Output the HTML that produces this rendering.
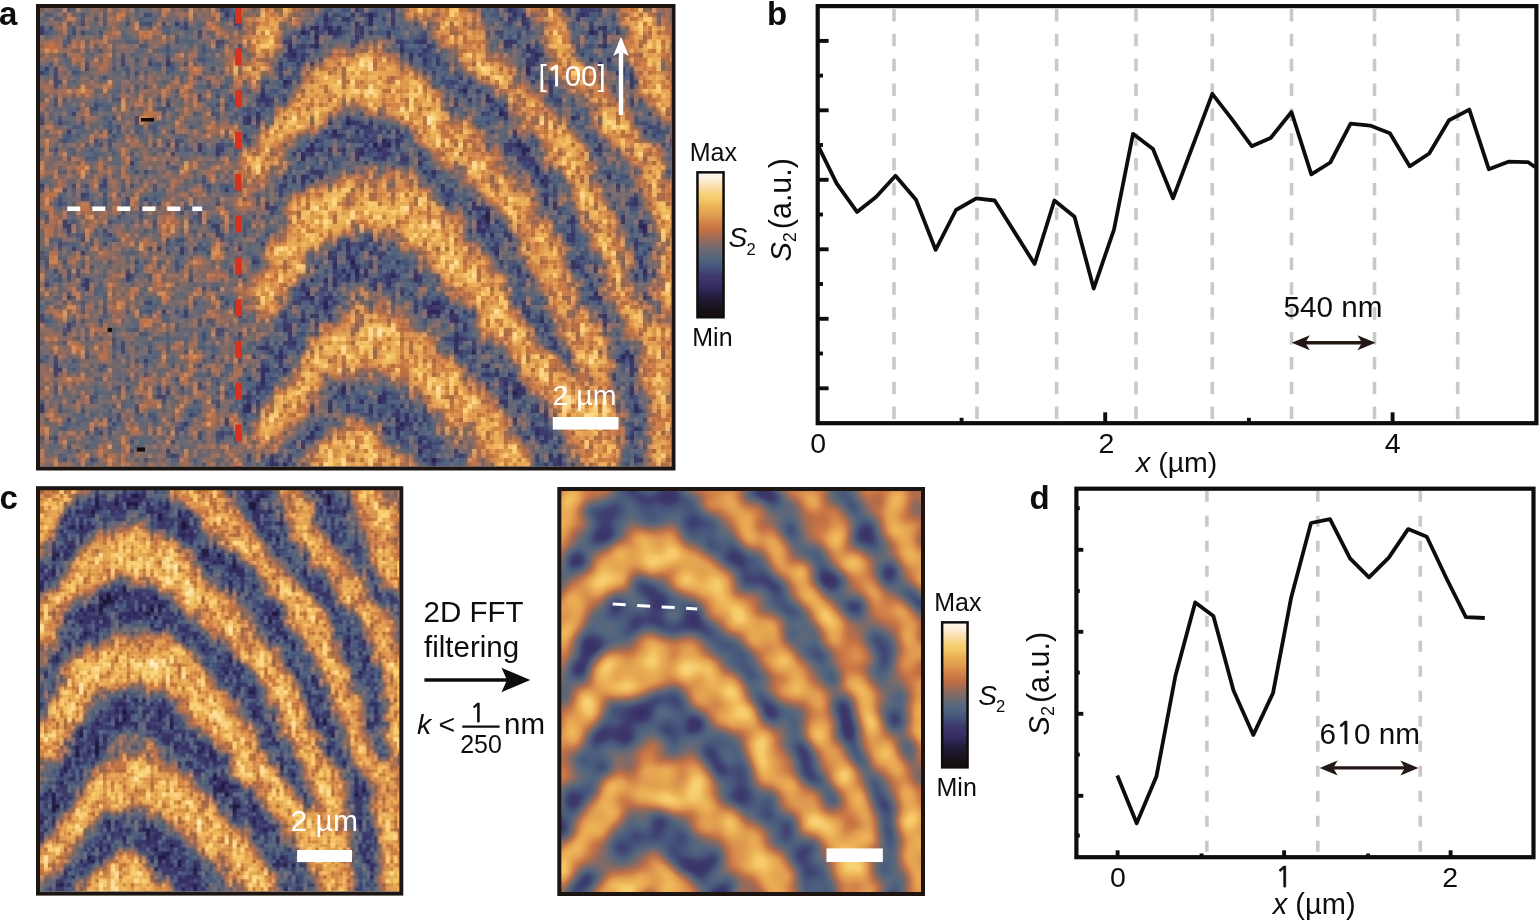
<!DOCTYPE html><html><head><meta charset="utf-8"><title>Figure</title>
<style>html,body{margin:0;padding:0;background:#fff;}svg{display:block;}text{font-family:'Liberation Sans', Arial, sans-serif;fill:#0f0d0c;}</style></head><body>
<svg width="1539" height="922" viewBox="0 0 1539 922">
<defs>
<linearGradient id="cbar" x1="0" y1="0" x2="0" y2="1"><stop offset="0.00" stop-color="#fff8ec"/><stop offset="0.05" stop-color="#fcefd8"/><stop offset="0.08" stop-color="#fbe2b8"/><stop offset="0.12" stop-color="#f9d898"/><stop offset="0.15" stop-color="#f6d27a"/><stop offset="0.19" stop-color="#f4c866"/><stop offset="0.22" stop-color="#eeb85a"/><stop offset="0.26" stop-color="#e8a850"/><stop offset="0.29" stop-color="#e0a050"/><stop offset="0.35" stop-color="#d4824a"/><stop offset="0.40" stop-color="#c47042"/><stop offset="0.46" stop-color="#9a6a5a"/><stop offset="0.53" stop-color="#6e6a70"/><stop offset="0.60" stop-color="#4f6580"/><stop offset="0.67" stop-color="#444e78"/><stop offset="0.71" stop-color="#3e3a6e"/><stop offset="0.75" stop-color="#3c3468"/><stop offset="0.79" stop-color="#352b64"/><stop offset="0.82" stop-color="#2c2454"/><stop offset="0.86" stop-color="#221c3a"/><stop offset="0.89" stop-color="#1f1830"/><stop offset="0.93" stop-color="#1b1420"/><stop offset="0.96" stop-color="#161014"/><stop offset="1.00" stop-color="#140e12"/></linearGradient>
<clipPath id="clipA"><rect x="40" y="8" width="631.5" height="458.5"/></clipPath>
<clipPath id="clipC1"><rect x="40" y="490" width="359.3" height="401.6"/></clipPath>
<clipPath id="clipC2"><rect x="561" y="491" width="360.5" height="401"/></clipPath>
<pattern id="nz" patternUnits="userSpaceOnUse" width="64" height="64"><path fill="rgb(6,6,6)" d="M6 0h1v1h-1zM14 0h1v1h-1zM40 0h1v1h-1zM47 0h1v1h-1zM52 0h2v1h-2zM60 0h1v1h-1zM9 1h1v1h-1zM14 1h1v1h-1zM23 1h2v1h-2zM41 1h1v1h-1zM43 1h1v1h-1zM48 1h1v1h-1zM53 1h1v1h-1zM56 1h1v1h-1zM63 1h1v1h-1zM9 2h1v1h-1zM14 2h1v1h-1zM43 2h1v1h-1zM55 2h1v1h-1zM63 2h1v1h-1zM9 3h1v1h-1zM14 3h1v1h-1zM19 3h1v1h-1zM22 3h3v1h-3zM27 3h1v1h-1zM30 3h1v1h-1zM32 3h1v1h-1zM43 3h2v1h-2zM47 3h1v1h-1zM53 3h2v1h-2zM0 4h1v1h-1zM32 4h1v1h-1zM44 4h1v1h-1zM47 4h1v1h-1zM53 4h2v1h-2zM61 4h1v1h-1zM0 5h1v1h-1zM7 5h1v1h-1zM13 5h1v1h-1zM28 5h1v1h-1zM35 5h1v1h-1zM47 5h1v1h-1zM58 5h1v1h-1zM6 6h1v1h-1zM30 6h1v1h-1zM35 6h1v1h-1zM61 6h1v1h-1zM6 7h1v1h-1zM30 7h1v1h-1zM39 7h2v1h-2zM54 7h1v1h-1zM5 8h1v1h-1zM28 8h1v1h-1zM36 8h1v1h-1zM39 8h1v1h-1zM44 8h1v1h-1zM55 8h1v1h-1zM61 8h1v1h-1zM16 9h1v1h-1zM28 9h1v1h-1zM36 9h1v1h-1zM44 9h1v1h-1zM55 9h1v1h-1zM5 10h1v1h-1zM18 10h1v1h-1zM28 10h1v1h-1zM46 10h2v1h-2zM56 10h1v1h-1zM18 11h1v1h-1zM21 11h1v1h-1zM28 11h1v1h-1zM35 11h2v1h-2zM46 11h1v1h-1zM48 11h3v1h-3zM58 11h1v1h-1zM62 11h1v1h-1zM10 12h1v1h-1zM18 12h1v1h-1zM24 12h1v1h-1zM28 12h1v1h-1zM32 12h1v1h-1zM53 12h1v1h-1zM60 12h1v1h-1zM1 13h1v1h-1zM3 13h1v1h-1zM10 13h1v1h-1zM16 13h1v1h-1zM38 13h1v1h-1zM44 13h1v1h-1zM47 13h1v1h-1zM53 13h1v1h-1zM0 14h1v1h-1zM3 14h1v1h-1zM21 14h1v1h-1zM23 14h1v1h-1zM44 14h1v1h-1zM3 15h1v1h-1zM14 15h1v1h-1zM35 15h1v1h-1zM41 15h2v1h-2zM3 16h2v1h-2zM41 16h2v1h-2zM45 16h1v1h-1zM49 16h2v1h-2zM54 16h1v1h-1zM57 16h1v1h-1zM60 16h1v1h-1zM3 17h1v1h-1zM23 17h1v1h-1zM40 17h2v1h-2zM49 17h1v1h-1zM63 17h1v1h-1zM30 18h1v1h-1zM49 18h1v1h-1zM58 18h1v1h-1zM63 18h1v1h-1zM35 19h1v1h-1zM39 19h1v1h-1zM42 19h1v1h-1zM49 19h1v1h-1zM3 20h1v1h-1zM17 20h1v1h-1zM26 20h1v1h-1zM35 20h1v1h-1zM42 20h1v1h-1zM54 20h1v1h-1zM3 21h1v1h-1zM12 21h1v1h-1zM28 21h1v1h-1zM39 21h1v1h-1zM41 21h1v1h-1zM60 21h1v1h-1zM62 21h1v1h-1zM11 22h2v1h-2zM20 22h1v1h-1zM26 22h2v1h-2zM59 22h1v1h-1zM7 23h1v1h-1zM11 23h1v1h-1zM27 23h1v1h-1zM38 23h2v1h-2zM48 23h1v1h-1zM0 24h1v1h-1zM4 24h1v1h-1zM21 24h1v1h-1zM39 24h1v1h-1zM46 24h1v1h-1zM48 24h1v1h-1zM54 24h1v1h-1zM60 24h1v1h-1zM0 25h1v1h-1zM4 25h1v1h-1zM9 25h1v1h-1zM21 25h1v1h-1zM45 25h2v1h-2zM48 25h1v1h-1zM60 25h1v1h-1zM17 26h1v1h-1zM33 26h1v1h-1zM48 26h1v1h-1zM50 26h1v1h-1zM6 27h1v1h-1zM15 27h1v1h-1zM17 27h1v1h-1zM29 27h1v1h-1zM41 27h1v1h-1zM16 28h1v1h-1zM32 28h1v1h-1zM41 28h1v1h-1zM45 28h1v1h-1zM12 29h1v1h-1zM15 29h1v1h-1zM30 29h2v1h-2zM46 29h1v1h-1zM61 29h1v1h-1zM10 30h1v1h-1zM13 30h1v1h-1zM15 30h1v1h-1zM28 30h1v1h-1zM30 30h1v1h-1zM35 30h1v1h-1zM39 30h2v1h-2zM42 30h1v1h-1zM46 30h1v1h-1zM54 30h1v1h-1zM60 30h1v1h-1zM3 31h1v1h-1zM35 31h1v1h-1zM39 31h2v1h-2zM43 31h2v1h-2zM59 31h2v1h-2zM20 32h1v1h-1zM29 32h1v1h-1zM39 32h1v1h-1zM43 32h1v1h-1zM47 32h1v1h-1zM51 32h1v1h-1zM6 33h1v1h-1zM58 33h1v1h-1zM20 34h1v1h-1zM28 34h1v1h-1zM29 35h2v1h-2zM46 35h1v1h-1zM49 35h1v1h-1zM51 35h1v1h-1zM5 36h1v1h-1zM11 36h1v1h-1zM23 36h1v1h-1zM46 36h1v1h-1zM51 36h1v1h-1zM36 37h1v1h-1zM51 37h1v1h-1zM54 37h1v1h-1zM58 37h1v1h-1zM62 37h1v1h-1zM14 38h1v1h-1zM36 38h1v1h-1zM45 38h1v1h-1zM47 38h1v1h-1zM52 38h1v1h-1zM56 38h1v1h-1zM58 38h1v1h-1zM60 38h1v1h-1zM0 39h1v1h-1zM7 39h1v1h-1zM10 39h1v1h-1zM13 39h2v1h-2zM20 39h1v1h-1zM25 39h1v1h-1zM37 39h1v1h-1zM53 39h2v1h-2zM58 39h1v1h-1zM5 40h1v1h-1zM25 40h1v1h-1zM41 40h1v1h-1zM53 40h1v1h-1zM58 40h1v1h-1zM9 41h2v1h-2zM14 41h1v1h-1zM53 41h1v1h-1zM4 42h1v1h-1zM9 42h2v1h-2zM14 42h1v1h-1zM19 42h1v1h-1zM23 42h1v1h-1zM48 42h1v1h-1zM4 43h1v1h-1zM11 43h1v1h-1zM14 43h1v1h-1zM19 43h1v1h-1zM26 43h1v1h-1zM39 43h1v1h-1zM48 43h1v1h-1zM50 43h1v1h-1zM59 43h1v1h-1zM22 44h1v1h-1zM35 44h1v1h-1zM50 44h1v1h-1zM59 44h1v1h-1zM63 44h1v1h-1zM35 45h1v1h-1zM57 45h1v1h-1zM1 46h1v1h-1zM17 46h1v1h-1zM22 46h1v1h-1zM35 46h1v1h-1zM47 46h1v1h-1zM54 46h1v1h-1zM57 46h1v1h-1zM1 47h1v1h-1zM5 47h1v1h-1zM15 47h1v1h-1zM25 47h1v1h-1zM33 47h1v1h-1zM35 47h1v1h-1zM37 47h1v1h-1zM45 47h2v1h-2zM54 47h1v1h-1zM5 48h2v1h-2zM25 48h1v1h-1zM38 48h2v1h-2zM45 48h2v1h-2zM6 49h1v1h-1zM14 49h1v1h-1zM31 49h1v1h-1zM33 49h2v1h-2zM39 49h1v1h-1zM45 49h1v1h-1zM8 50h2v1h-2zM15 50h1v1h-1zM36 50h1v1h-1zM39 50h2v1h-2zM45 50h1v1h-1zM54 50h1v1h-1zM9 51h1v1h-1zM11 51h1v1h-1zM28 51h1v1h-1zM30 51h2v1h-2zM40 51h1v1h-1zM53 51h2v1h-2zM4 52h1v1h-1zM11 52h1v1h-1zM14 52h1v1h-1zM49 52h1v1h-1zM4 53h1v1h-1zM7 53h1v1h-1zM24 53h1v1h-1zM26 53h1v1h-1zM31 53h1v1h-1zM34 53h1v1h-1zM41 53h1v1h-1zM44 53h1v1h-1zM0 54h1v1h-1zM9 54h1v1h-1zM31 54h1v1h-1zM37 54h1v1h-1zM59 54h2v1h-2zM0 55h2v1h-2zM59 55h2v1h-2zM1 56h1v1h-1zM5 56h1v1h-1zM21 56h1v1h-1zM30 56h1v1h-1zM47 56h2v1h-2zM54 56h1v1h-1zM59 56h2v1h-2zM1 57h1v1h-1zM30 57h1v1h-1zM50 57h1v1h-1zM54 57h1v1h-1zM59 57h1v1h-1zM61 57h1v1h-1zM3 58h1v1h-1zM6 58h1v1h-1zM8 58h1v1h-1zM30 58h1v1h-1zM33 58h1v1h-1zM42 58h1v1h-1zM59 58h1v1h-1zM4 59h1v1h-1zM6 59h1v1h-1zM8 59h1v1h-1zM14 59h1v1h-1zM19 59h1v1h-1zM24 59h1v1h-1zM33 59h1v1h-1zM44 59h1v1h-1zM4 60h1v1h-1zM6 60h1v1h-1zM10 60h1v1h-1zM19 60h1v1h-1zM24 60h1v1h-1zM33 60h1v1h-1zM45 60h1v1h-1zM60 60h1v1h-1zM63 60h1v1h-1zM1 61h1v1h-1zM9 61h2v1h-2zM58 61h1v1h-1zM10 62h1v1h-1zM36 62h1v1h-1zM39 62h1v1h-1zM56 62h1v1h-1zM59 63h1v1h-1z"/><path fill="rgb(51,51,51)" d="M0 0h1v1h-1zM3 0h1v1h-1zM7 0h1v1h-1zM32 0h1v1h-1zM41 0h1v1h-1zM48 0h1v1h-1zM56 0h1v1h-1zM58 0h2v1h-2zM63 0h1v1h-1zM1 1h2v1h-2zM5 1h1v1h-1zM34 1h1v1h-1zM55 1h1v1h-1zM57 1h1v1h-1zM3 2h2v1h-2zM12 2h1v1h-1zM19 2h1v1h-1zM22 2h1v1h-1zM40 2h1v1h-1zM44 2h1v1h-1zM6 3h1v1h-1zM48 3h1v1h-1zM2 4h1v1h-1zM7 4h1v1h-1zM14 4h1v1h-1zM22 4h1v1h-1zM24 4h1v1h-1zM27 4h2v1h-2zM31 4h1v1h-1zM46 4h1v1h-1zM60 4h1v1h-1zM1 5h1v1h-1zM9 5h1v1h-1zM27 5h1v1h-1zM37 5h1v1h-1zM44 5h2v1h-2zM49 5h1v1h-1zM54 5h1v1h-1zM61 5h1v1h-1zM7 6h1v1h-1zM13 6h1v1h-1zM38 6h1v1h-1zM54 6h2v1h-2zM5 7h1v1h-1zM16 7h1v1h-1zM19 7h3v1h-3zM46 7h1v1h-1zM55 7h1v1h-1zM61 7h1v1h-1zM16 8h1v1h-1zM22 8h2v1h-2zM40 8h1v1h-1zM46 8h1v1h-1zM8 9h1v1h-1zM10 9h1v1h-1zM13 9h1v1h-1zM26 9h2v1h-2zM29 9h2v1h-2zM37 9h1v1h-1zM39 9h1v1h-1zM45 9h1v1h-1zM16 10h1v1h-1zM20 10h1v1h-1zM35 10h2v1h-2zM38 10h1v1h-1zM50 10h1v1h-1zM54 10h2v1h-2zM10 11h1v1h-1zM16 11h1v1h-1zM24 11h1v1h-1zM37 11h2v1h-2zM44 11h1v1h-1zM2 12h1v1h-1zM16 12h1v1h-1zM21 12h1v1h-1zM26 12h1v1h-1zM36 12h1v1h-1zM44 12h2v1h-2zM51 12h1v1h-1zM57 12h1v1h-1zM19 13h1v1h-1zM29 13h1v1h-1zM52 13h1v1h-1zM1 14h1v1h-1zM7 14h1v1h-1zM28 14h1v1h-1zM36 14h1v1h-1zM40 14h1v1h-1zM53 14h1v1h-1zM23 15h1v1h-1zM29 15h1v1h-1zM49 15h1v1h-1zM57 15h1v1h-1zM7 16h1v1h-1zM13 16h1v1h-1zM31 16h1v1h-1zM55 16h1v1h-1zM35 17h1v1h-1zM37 17h1v1h-1zM54 17h1v1h-1zM12 18h2v1h-2zM17 18h1v1h-1zM19 18h1v1h-1zM39 18h1v1h-1zM46 18h1v1h-1zM41 19h1v1h-1zM54 19h1v1h-1zM56 19h1v1h-1zM0 20h1v1h-1zM5 20h1v1h-1zM12 20h1v1h-1zM16 20h1v1h-1zM19 20h1v1h-1zM28 20h1v1h-1zM31 20h1v1h-1zM36 20h1v1h-1zM43 20h1v1h-1zM48 20h4v1h-4zM60 20h1v1h-1zM13 21h1v1h-1zM17 21h1v1h-1zM26 21h1v1h-1zM43 21h1v1h-1zM54 21h1v1h-1zM22 22h1v1h-1zM25 22h1v1h-1zM38 22h1v1h-1zM41 22h1v1h-1zM57 22h1v1h-1zM0 23h1v1h-1zM12 23h1v1h-1zM30 23h1v1h-1zM34 23h1v1h-1zM9 24h1v1h-1zM16 24h1v1h-1zM27 24h1v1h-1zM29 24h1v1h-1zM45 24h1v1h-1zM5 25h2v1h-2zM15 25h1v1h-1zM27 25h1v1h-1zM35 25h1v1h-1zM42 25h1v1h-1zM51 25h1v1h-1zM7 26h3v1h-3zM11 26h1v1h-1zM15 26h1v1h-1zM21 26h2v1h-2zM24 26h2v1h-2zM34 26h1v1h-1zM53 26h1v1h-1zM1 27h1v1h-1zM9 27h1v1h-1zM19 27h1v1h-1zM21 27h1v1h-1zM25 27h1v1h-1zM36 27h1v1h-1zM48 27h1v1h-1zM8 28h1v1h-1zM17 28h2v1h-2zM31 28h1v1h-1zM57 28h1v1h-1zM4 29h2v1h-2zM16 29h1v1h-1zM28 29h1v1h-1zM40 29h1v1h-1zM42 29h1v1h-1zM45 29h1v1h-1zM12 30h1v1h-1zM19 30h1v1h-1zM25 30h1v1h-1zM32 30h1v1h-1zM41 30h1v1h-1zM0 31h1v1h-1zM2 31h1v1h-1zM11 31h1v1h-1zM15 31h1v1h-1zM20 31h2v1h-2zM27 31h1v1h-1zM30 31h1v1h-1zM32 31h2v1h-2zM48 31h1v1h-1zM51 31h1v1h-1zM62 31h1v1h-1zM3 32h1v1h-1zM6 32h2v1h-2zM16 32h1v1h-1zM48 32h1v1h-1zM56 32h1v1h-1zM58 32h1v1h-1zM60 32h1v1h-1zM10 33h1v1h-1zM12 33h1v1h-1zM21 33h1v1h-1zM31 33h1v1h-1zM42 33h1v1h-1zM50 33h1v1h-1zM8 34h1v1h-1zM14 35h1v1h-1zM28 35h1v1h-1zM55 35h1v1h-1zM4 36h1v1h-1zM7 36h1v1h-1zM12 36h1v1h-1zM21 36h1v1h-1zM30 36h1v1h-1zM34 36h1v1h-1zM39 36h1v1h-1zM49 36h1v1h-1zM55 36h1v1h-1zM60 36h2v1h-2zM10 37h2v1h-2zM39 37h1v1h-1zM46 37h1v1h-1zM48 37h1v1h-1zM50 37h1v1h-1zM52 37h1v1h-1zM56 37h1v1h-1zM59 37h1v1h-1zM18 38h1v1h-1zM22 38h1v1h-1zM27 38h1v1h-1zM34 38h1v1h-1zM51 38h1v1h-1zM18 39h1v1h-1zM28 39h1v1h-1zM41 39h2v1h-2zM45 39h1v1h-1zM48 39h1v1h-1zM0 40h1v1h-1zM7 40h1v1h-1zM13 40h1v1h-1zM18 40h1v1h-1zM27 40h1v1h-1zM37 40h1v1h-1zM43 40h1v1h-1zM52 40h1v1h-1zM4 41h1v1h-1zM17 41h1v1h-1zM22 41h1v1h-1zM26 41h1v1h-1zM47 41h2v1h-2zM62 41h1v1h-1zM22 42h1v1h-1zM25 42h1v1h-1zM39 42h1v1h-1zM45 42h1v1h-1zM59 42h1v1h-1zM3 43h1v1h-1zM5 43h1v1h-1zM7 43h1v1h-1zM18 43h1v1h-1zM24 43h1v1h-1zM32 43h1v1h-1zM34 43h1v1h-1zM54 43h1v1h-1zM63 43h1v1h-1zM18 44h1v1h-1zM32 44h3v1h-3zM36 44h1v1h-1zM41 44h1v1h-1zM51 44h2v1h-2zM62 44h1v1h-1zM18 45h1v1h-1zM22 45h1v1h-1zM31 45h1v1h-1zM46 45h1v1h-1zM51 45h1v1h-1zM9 46h1v1h-1zM34 46h1v1h-1zM39 46h1v1h-1zM42 46h1v1h-1zM44 46h2v1h-2zM16 47h2v1h-2zM22 47h1v1h-1zM38 47h1v1h-1zM40 47h1v1h-1zM53 47h1v1h-1zM55 47h1v1h-1zM58 47h1v1h-1zM33 48h1v1h-1zM35 48h1v1h-1zM42 48h1v1h-1zM54 48h1v1h-1zM59 48h1v1h-1zM8 49h1v1h-1zM12 49h1v1h-1zM23 49h1v1h-1zM25 49h1v1h-1zM47 49h1v1h-1zM54 49h1v1h-1zM59 49h2v1h-2zM6 50h1v1h-1zM12 50h1v1h-1zM14 50h1v1h-1zM26 50h1v1h-1zM31 50h1v1h-1zM34 50h1v1h-1zM43 50h1v1h-1zM50 50h1v1h-1zM53 50h1v1h-1zM62 50h1v1h-1zM2 51h3v1h-3zM16 51h1v1h-1zM32 51h1v1h-1zM42 51h1v1h-1zM57 51h1v1h-1zM21 52h1v1h-1zM28 52h1v1h-1zM30 52h1v1h-1zM35 52h1v1h-1zM42 52h1v1h-1zM44 52h1v1h-1zM54 52h1v1h-1zM2 53h1v1h-1zM10 53h1v1h-1zM13 53h1v1h-1zM36 53h1v1h-1zM60 53h1v1h-1zM1 54h1v1h-1zM20 54h2v1h-2zM28 54h1v1h-1zM4 55h1v1h-1zM47 55h2v1h-2zM56 55h1v1h-1zM9 56h1v1h-1zM15 56h1v1h-1zM23 56h1v1h-1zM26 56h1v1h-1zM38 56h1v1h-1zM49 56h2v1h-2zM58 56h1v1h-1zM62 56h1v1h-1zM5 57h1v1h-1zM9 57h1v1h-1zM11 57h1v1h-1zM26 57h1v1h-1zM31 57h1v1h-1zM42 57h1v1h-1zM48 57h1v1h-1zM55 57h1v1h-1zM14 58h1v1h-1zM19 58h1v1h-1zM21 58h1v1h-1zM20 59h1v1h-1zM23 59h1v1h-1zM42 59h1v1h-1zM52 59h1v1h-1zM57 59h1v1h-1zM1 60h1v1h-1zM3 60h1v1h-1zM9 60h1v1h-1zM20 60h1v1h-1zM51 60h1v1h-1zM13 61h1v1h-1zM30 61h1v1h-1zM53 61h2v1h-2zM38 62h1v1h-1zM55 62h1v1h-1zM58 62h1v1h-1zM14 63h1v1h-1zM31 63h1v1h-1zM36 63h1v1h-1zM42 63h1v1h-1z"/><path fill="rgb(78,78,78)" d="M4 0h1v1h-1zM21 0h1v1h-1zM24 0h1v1h-1zM26 0h1v1h-1zM29 0h1v1h-1zM31 0h1v1h-1zM35 0h1v1h-1zM37 0h1v1h-1zM42 0h1v1h-1zM57 0h1v1h-1zM7 1h2v1h-2zM21 1h1v1h-1zM26 1h1v1h-1zM36 1h1v1h-1zM45 1h3v1h-3zM51 1h1v1h-1zM60 1h1v1h-1zM21 2h1v1h-1zM23 2h1v1h-1zM25 2h1v1h-1zM32 2h1v1h-1zM41 2h1v1h-1zM63 3h1v1h-1zM63 4h1v1h-1zM2 5h1v1h-1zM6 5h1v1h-1zM29 5h1v1h-1zM38 5h1v1h-1zM42 5h1v1h-1zM46 5h1v1h-1zM51 5h1v1h-1zM56 5h1v1h-1zM1 6h1v1h-1zM28 6h1v1h-1zM42 6h1v1h-1zM15 7h1v1h-1zM17 7h1v1h-1zM28 7h1v1h-1zM31 7h2v1h-2zM36 7h1v1h-1zM41 7h1v1h-1zM48 7h1v1h-1zM0 8h1v1h-1zM12 8h1v1h-1zM33 8h1v1h-1zM35 8h1v1h-1zM37 8h1v1h-1zM47 8h1v1h-1zM60 8h1v1h-1zM7 9h1v1h-1zM21 9h1v1h-1zM25 9h1v1h-1zM32 9h1v1h-1zM35 9h1v1h-1zM43 9h1v1h-1zM47 9h1v1h-1zM49 9h1v1h-1zM56 9h1v1h-1zM0 10h1v1h-1zM4 10h1v1h-1zM11 10h1v1h-1zM32 10h1v1h-1zM43 10h1v1h-1zM45 10h1v1h-1zM58 10h1v1h-1zM32 11h1v1h-1zM45 11h1v1h-1zM53 11h1v1h-1zM55 11h2v1h-2zM25 12h1v1h-1zM29 12h1v1h-1zM34 12h1v1h-1zM38 12h1v1h-1zM46 12h2v1h-2zM22 13h2v1h-2zM25 13h2v1h-2zM5 14h1v1h-1zM8 14h1v1h-1zM16 14h2v1h-2zM19 14h1v1h-1zM29 14h1v1h-1zM42 14h1v1h-1zM49 14h1v1h-1zM11 15h1v1h-1zM13 15h1v1h-1zM15 15h2v1h-2zM19 15h1v1h-1zM31 15h1v1h-1zM34 15h1v1h-1zM46 15h1v1h-1zM50 15h1v1h-1zM53 15h1v1h-1zM6 16h1v1h-1zM14 16h1v1h-1zM23 16h1v1h-1zM27 16h1v1h-1zM37 16h1v1h-1zM48 16h1v1h-1zM6 17h1v1h-1zM8 17h1v1h-1zM21 17h1v1h-1zM24 17h1v1h-1zM26 17h1v1h-1zM34 17h1v1h-1zM36 17h1v1h-1zM57 17h1v1h-1zM62 17h1v1h-1zM16 18h1v1h-1zM21 18h1v1h-1zM33 18h1v1h-1zM38 18h1v1h-1zM40 18h2v1h-2zM44 18h1v1h-1zM55 18h1v1h-1zM60 18h1v1h-1zM3 19h1v1h-1zM7 19h1v1h-1zM26 19h1v1h-1zM30 19h1v1h-1zM50 19h1v1h-1zM58 19h1v1h-1zM23 20h1v1h-1zM25 20h1v1h-1zM38 20h2v1h-2zM41 20h1v1h-1zM57 20h1v1h-1zM14 21h2v1h-2zM37 21h1v1h-1zM42 21h1v1h-1zM48 21h1v1h-1zM50 21h1v1h-1zM59 21h1v1h-1zM1 22h1v1h-1zM3 22h2v1h-2zM8 22h1v1h-1zM15 22h1v1h-1zM17 22h1v1h-1zM28 22h2v1h-2zM42 22h1v1h-1zM46 22h1v1h-1zM18 23h1v1h-1zM20 23h1v1h-1zM29 23h1v1h-1zM35 23h1v1h-1zM43 23h1v1h-1zM46 23h1v1h-1zM57 23h1v1h-1zM14 24h1v1h-1zM18 24h1v1h-1zM42 24h2v1h-2zM55 24h1v1h-1zM57 24h1v1h-1zM25 25h2v1h-2zM28 25h2v1h-2zM32 25h2v1h-2zM14 26h1v1h-1zM29 26h1v1h-1zM47 26h1v1h-1zM8 27h1v1h-1zM10 27h2v1h-2zM13 27h1v1h-1zM26 27h1v1h-1zM28 27h1v1h-1zM52 27h1v1h-1zM63 27h1v1h-1zM1 28h2v1h-2zM6 28h1v1h-1zM20 28h1v1h-1zM22 28h1v1h-1zM25 28h2v1h-2zM50 28h1v1h-1zM55 28h1v1h-1zM7 29h1v1h-1zM13 29h1v1h-1zM18 29h1v1h-1zM27 29h1v1h-1zM32 29h1v1h-1zM47 29h1v1h-1zM59 29h1v1h-1zM62 29h1v1h-1zM3 30h1v1h-1zM6 31h2v1h-2zM46 31h1v1h-1zM61 31h1v1h-1zM12 32h2v1h-2zM22 32h1v1h-1zM25 32h1v1h-1zM34 32h1v1h-1zM36 32h1v1h-1zM40 32h1v1h-1zM52 32h1v1h-1zM4 33h1v1h-1zM11 33h1v1h-1zM16 33h2v1h-2zM22 33h1v1h-1zM32 33h1v1h-1zM39 33h1v1h-1zM43 33h1v1h-1zM45 33h1v1h-1zM55 33h1v1h-1zM6 34h1v1h-1zM31 34h1v1h-1zM37 34h1v1h-1zM40 34h1v1h-1zM45 34h1v1h-1zM57 34h1v1h-1zM4 35h1v1h-1zM11 35h1v1h-1zM35 35h2v1h-2zM52 35h1v1h-1zM60 35h1v1h-1zM27 36h1v1h-1zM29 36h1v1h-1zM40 36h1v1h-1zM42 36h1v1h-1zM50 36h1v1h-1zM62 36h1v1h-1zM14 37h1v1h-1zM16 37h1v1h-1zM23 37h1v1h-1zM34 37h1v1h-1zM41 37h1v1h-1zM45 37h1v1h-1zM6 38h1v1h-1zM28 38h1v1h-1zM48 38h1v1h-1zM54 38h1v1h-1zM9 39h1v1h-1zM21 39h1v1h-1zM36 39h1v1h-1zM40 39h1v1h-1zM47 39h1v1h-1zM50 39h1v1h-1zM52 39h1v1h-1zM10 40h1v1h-1zM14 40h1v1h-1zM30 40h1v1h-1zM32 40h1v1h-1zM44 40h1v1h-1zM50 40h1v1h-1zM54 40h2v1h-2zM5 41h1v1h-1zM7 41h1v1h-1zM20 41h1v1h-1zM23 41h1v1h-1zM25 41h1v1h-1zM27 41h1v1h-1zM33 41h1v1h-1zM59 41h1v1h-1zM3 42h1v1h-1zM11 42h1v1h-1zM13 42h1v1h-1zM26 42h1v1h-1zM31 42h1v1h-1zM34 42h1v1h-1zM2 43h1v1h-1zM22 43h1v1h-1zM53 43h1v1h-1zM57 43h1v1h-1zM4 44h1v1h-1zM14 44h1v1h-1zM37 44h1v1h-1zM42 44h1v1h-1zM0 45h1v1h-1zM6 45h1v1h-1zM20 45h1v1h-1zM47 45h1v1h-1zM53 45h1v1h-1zM60 45h1v1h-1zM12 46h1v1h-1zM25 46h1v1h-1zM38 46h1v1h-1zM49 46h1v1h-1zM62 46h1v1h-1zM7 47h1v1h-1zM10 47h1v1h-1zM20 47h1v1h-1zM31 47h1v1h-1zM39 47h1v1h-1zM50 47h1v1h-1zM57 47h1v1h-1zM13 48h1v1h-1zM15 48h1v1h-1zM31 48h1v1h-1zM58 48h1v1h-1zM62 48h1v1h-1zM0 49h1v1h-1zM3 49h1v1h-1zM42 49h1v1h-1zM44 49h1v1h-1zM46 49h1v1h-1zM57 49h1v1h-1zM0 50h1v1h-1zM7 50h1v1h-1zM57 50h1v1h-1zM8 51h1v1h-1zM14 51h1v1h-1zM17 51h1v1h-1zM36 51h1v1h-1zM41 51h1v1h-1zM2 52h1v1h-1zM5 52h1v1h-1zM7 52h1v1h-1zM10 52h1v1h-1zM13 52h1v1h-1zM31 52h1v1h-1zM37 52h1v1h-1zM46 52h1v1h-1zM63 52h1v1h-1zM32 53h1v1h-1zM35 53h1v1h-1zM37 53h1v1h-1zM49 53h1v1h-1zM57 53h1v1h-1zM62 53h1v1h-1zM4 54h1v1h-1zM6 54h1v1h-1zM12 54h1v1h-1zM19 54h1v1h-1zM24 54h1v1h-1zM34 54h1v1h-1zM57 54h1v1h-1zM5 55h1v1h-1zM11 55h1v1h-1zM21 55h1v1h-1zM30 55h2v1h-2zM33 55h1v1h-1zM37 55h1v1h-1zM43 55h1v1h-1zM55 55h1v1h-1zM19 56h1v1h-1zM27 56h1v1h-1zM41 56h1v1h-1zM43 56h1v1h-1zM61 56h1v1h-1zM33 57h1v1h-1zM38 57h1v1h-1zM41 57h1v1h-1zM47 57h1v1h-1zM53 57h1v1h-1zM1 58h1v1h-1zM17 58h1v1h-1zM54 58h1v1h-1zM63 58h1v1h-1zM2 59h1v1h-1zM13 59h1v1h-1zM49 59h1v1h-1zM61 59h1v1h-1zM11 60h1v1h-1zM40 60h1v1h-1zM50 60h1v1h-1zM52 60h1v1h-1zM58 60h1v1h-1zM20 61h1v1h-1zM24 61h1v1h-1zM34 61h1v1h-1zM39 61h2v1h-2zM43 61h1v1h-1zM45 61h1v1h-1zM47 61h1v1h-1zM51 61h1v1h-1zM63 61h1v1h-1zM8 62h1v1h-1zM12 62h2v1h-2zM23 62h1v1h-1zM27 62h1v1h-1zM29 62h1v1h-1zM32 62h2v1h-2zM49 62h1v1h-1zM53 62h1v1h-1zM57 62h1v1h-1zM6 63h1v1h-1zM12 63h1v1h-1zM16 63h1v1h-1zM22 63h1v1h-1zM32 63h1v1h-1zM49 63h2v1h-2zM56 63h1v1h-1z"/><path fill="rgb(99,99,99)" d="M13 0h1v1h-1zM39 0h1v1h-1zM43 0h1v1h-1zM46 0h1v1h-1zM10 1h1v1h-1zM16 1h1v1h-1zM19 1h1v1h-1zM25 1h1v1h-1zM37 1h1v1h-1zM42 1h1v1h-1zM52 1h1v1h-1zM62 1h1v1h-1zM0 2h1v1h-1zM24 2h1v1h-1zM28 2h1v1h-1zM30 2h1v1h-1zM34 2h1v1h-1zM38 2h1v1h-1zM50 2h1v1h-1zM52 2h1v1h-1zM54 2h1v1h-1zM35 3h2v1h-2zM40 3h1v1h-1zM49 3h2v1h-2zM61 3h1v1h-1zM6 4h1v1h-1zM13 4h1v1h-1zM15 4h1v1h-1zM30 4h1v1h-1zM43 4h1v1h-1zM51 4h1v1h-1zM58 4h1v1h-1zM18 5h1v1h-1zM21 5h1v1h-1zM30 5h1v1h-1zM32 5h1v1h-1zM52 5h1v1h-1zM55 5h1v1h-1zM59 5h1v1h-1zM62 5h1v1h-1zM18 6h2v1h-2zM21 6h1v1h-1zM44 6h1v1h-1zM48 6h1v1h-1zM52 6h1v1h-1zM57 6h1v1h-1zM10 7h1v1h-1zM23 7h1v1h-1zM33 7h1v1h-1zM37 7h1v1h-1zM52 7h1v1h-1zM27 8h1v1h-1zM29 8h3v1h-3zM58 8h1v1h-1zM17 9h2v1h-2zM22 9h1v1h-1zM31 9h1v1h-1zM38 9h1v1h-1zM46 9h1v1h-1zM50 9h1v1h-1zM10 10h1v1h-1zM21 10h1v1h-1zM24 10h1v1h-1zM27 10h1v1h-1zM29 10h1v1h-1zM40 10h1v1h-1zM52 10h1v1h-1zM5 11h2v1h-2zM13 11h1v1h-1zM22 11h1v1h-1zM39 11h1v1h-1zM47 11h1v1h-1zM51 11h1v1h-1zM4 12h1v1h-1zM39 12h1v1h-1zM50 12h1v1h-1zM58 12h1v1h-1zM62 12h1v1h-1zM0 13h1v1h-1zM21 13h1v1h-1zM28 13h1v1h-1zM42 13h1v1h-1zM54 13h1v1h-1zM57 13h1v1h-1zM60 13h1v1h-1zM62 13h2v1h-2zM32 14h1v1h-1zM38 14h1v1h-1zM50 14h1v1h-1zM59 14h1v1h-1zM8 15h1v1h-1zM21 15h1v1h-1zM25 15h1v1h-1zM60 15h1v1h-1zM8 16h1v1h-1zM10 16h1v1h-1zM16 16h2v1h-2zM25 16h2v1h-2zM28 16h1v1h-1zM58 16h1v1h-1zM61 16h1v1h-1zM10 17h2v1h-2zM16 17h2v1h-2zM42 17h1v1h-1zM45 17h1v1h-1zM55 17h1v1h-1zM15 18h1v1h-1zM29 18h1v1h-1zM36 18h1v1h-1zM51 18h2v1h-2zM57 18h1v1h-1zM1 19h1v1h-1zM12 19h1v1h-1zM16 19h1v1h-1zM21 19h1v1h-1zM38 19h1v1h-1zM53 19h1v1h-1zM55 19h1v1h-1zM61 19h1v1h-1zM8 20h1v1h-1zM13 20h2v1h-2zM53 20h1v1h-1zM62 20h1v1h-1zM5 21h1v1h-1zM19 21h2v1h-2zM31 21h1v1h-1zM38 21h1v1h-1zM46 21h1v1h-1zM51 21h1v1h-1zM61 21h1v1h-1zM63 21h1v1h-1zM6 22h1v1h-1zM14 22h1v1h-1zM36 22h1v1h-1zM39 22h1v1h-1zM45 22h1v1h-1zM47 22h1v1h-1zM56 22h1v1h-1zM4 23h1v1h-1zM6 23h1v1h-1zM51 23h1v1h-1zM55 23h1v1h-1zM2 24h1v1h-1zM19 24h1v1h-1zM51 24h1v1h-1zM7 25h1v1h-1zM11 25h2v1h-2zM18 25h1v1h-1zM24 25h1v1h-1zM34 25h1v1h-1zM39 25h1v1h-1zM50 25h1v1h-1zM54 25h1v1h-1zM12 26h1v1h-1zM16 26h1v1h-1zM19 26h1v1h-1zM27 26h1v1h-1zM44 26h2v1h-2zM56 26h1v1h-1zM22 27h1v1h-1zM33 27h1v1h-1zM45 27h3v1h-3zM3 28h1v1h-1zM5 28h1v1h-1zM10 28h1v1h-1zM15 28h1v1h-1zM27 28h1v1h-1zM30 28h1v1h-1zM33 28h1v1h-1zM39 28h1v1h-1zM48 28h1v1h-1zM59 28h1v1h-1zM6 29h1v1h-1zM9 29h1v1h-1zM22 29h2v1h-2zM48 29h1v1h-1zM55 29h3v1h-3zM8 30h1v1h-1zM18 30h1v1h-1zM23 30h1v1h-1zM36 30h1v1h-1zM43 30h1v1h-1zM47 30h2v1h-2zM16 31h1v1h-1zM22 31h1v1h-1zM24 31h1v1h-1zM26 31h1v1h-1zM31 31h1v1h-1zM49 31h1v1h-1zM57 31h1v1h-1zM0 32h1v1h-1zM14 32h1v1h-1zM17 32h1v1h-1zM31 32h2v1h-2zM46 32h1v1h-1zM59 32h1v1h-1zM14 33h1v1h-1zM20 33h1v1h-1zM33 33h2v1h-2zM44 33h1v1h-1zM47 33h1v1h-1zM61 33h1v1h-1zM11 34h1v1h-1zM16 34h2v1h-2zM33 34h1v1h-1zM35 34h1v1h-1zM43 34h1v1h-1zM49 34h1v1h-1zM61 34h1v1h-1zM1 35h1v1h-1zM5 35h1v1h-1zM20 35h1v1h-1zM37 35h1v1h-1zM44 35h1v1h-1zM57 35h2v1h-2zM24 36h2v1h-2zM2 37h1v1h-1zM8 37h1v1h-1zM29 37h1v1h-1zM0 38h1v1h-1zM9 38h1v1h-1zM13 38h1v1h-1zM26 38h1v1h-1zM32 38h1v1h-1zM35 38h1v1h-1zM42 38h1v1h-1zM49 38h2v1h-2zM2 39h1v1h-1zM6 39h1v1h-1zM17 39h1v1h-1zM22 39h1v1h-1zM24 39h1v1h-1zM46 39h1v1h-1zM61 39h1v1h-1zM20 40h1v1h-1zM23 40h1v1h-1zM40 40h1v1h-1zM57 40h1v1h-1zM11 41h1v1h-1zM24 41h1v1h-1zM37 41h1v1h-1zM54 41h1v1h-1zM61 41h1v1h-1zM5 42h2v1h-2zM15 42h1v1h-1zM24 42h1v1h-1zM12 43h2v1h-2zM37 43h1v1h-1zM3 44h1v1h-1zM13 44h1v1h-1zM15 44h1v1h-1zM26 44h1v1h-1zM30 44h1v1h-1zM38 44h1v1h-1zM1 45h1v1h-1zM7 45h1v1h-1zM21 45h1v1h-1zM42 45h1v1h-1zM44 45h1v1h-1zM52 45h1v1h-1zM0 46h1v1h-1zM15 46h1v1h-1zM18 46h1v1h-1zM23 46h1v1h-1zM46 46h1v1h-1zM6 47h1v1h-1zM8 47h1v1h-1zM34 47h1v1h-1zM44 47h1v1h-1zM60 47h1v1h-1zM8 48h1v1h-1zM37 48h1v1h-1zM48 48h1v1h-1zM9 49h1v1h-1zM28 49h1v1h-1zM30 49h1v1h-1zM35 49h4v1h-4zM40 49h1v1h-1zM50 49h3v1h-3zM55 49h1v1h-1zM3 50h1v1h-1zM11 50h1v1h-1zM16 50h1v1h-1zM25 50h1v1h-1zM30 50h1v1h-1zM44 50h1v1h-1zM55 50h2v1h-2zM58 50h1v1h-1zM0 51h1v1h-1zM15 51h1v1h-1zM21 51h1v1h-1zM29 51h1v1h-1zM48 51h2v1h-2zM55 51h1v1h-1zM6 52h1v1h-1zM8 52h1v1h-1zM29 52h1v1h-1zM53 52h1v1h-1zM20 53h1v1h-1zM29 53h1v1h-1zM40 53h1v1h-1zM51 53h1v1h-1zM10 54h2v1h-2zM18 54h1v1h-1zM22 54h1v1h-1zM32 54h1v1h-1zM41 54h1v1h-1zM46 54h1v1h-1zM56 54h1v1h-1zM19 55h1v1h-1zM44 55h1v1h-1zM53 55h1v1h-1zM57 55h1v1h-1zM62 55h1v1h-1zM13 56h1v1h-1zM31 56h2v1h-2zM55 56h1v1h-1zM6 57h1v1h-1zM15 57h1v1h-1zM21 57h2v1h-2zM49 57h1v1h-1zM51 57h2v1h-2zM11 58h1v1h-1zM22 58h1v1h-1zM28 58h2v1h-2zM35 58h1v1h-1zM44 58h1v1h-1zM52 58h1v1h-1zM7 59h1v1h-1zM15 59h1v1h-1zM21 59h1v1h-1zM36 59h1v1h-1zM43 59h1v1h-1zM45 59h1v1h-1zM7 60h1v1h-1zM13 60h1v1h-1zM18 60h1v1h-1zM27 60h1v1h-1zM43 60h1v1h-1zM49 60h1v1h-1zM2 61h1v1h-1zM4 61h1v1h-1zM23 61h1v1h-1zM36 61h1v1h-1zM38 61h1v1h-1zM42 61h1v1h-1zM46 61h1v1h-1zM49 61h1v1h-1zM9 62h1v1h-1zM14 62h1v1h-1zM16 62h1v1h-1zM31 62h1v1h-1zM41 62h1v1h-1zM45 62h1v1h-1zM52 62h1v1h-1zM59 62h1v1h-1zM62 62h2v1h-2zM2 63h1v1h-1zM13 63h1v1h-1zM25 63h1v1h-1zM30 63h1v1h-1zM41 63h1v1h-1zM43 63h1v1h-1zM55 63h1v1h-1zM61 63h1v1h-1z"/><path fill="rgb(118,118,118)" d="M2 0h1v1h-1zM10 0h1v1h-1zM23 0h1v1h-1zM30 0h1v1h-1zM34 0h1v1h-1zM50 0h1v1h-1zM62 0h1v1h-1zM3 1h1v1h-1zM12 1h1v1h-1zM15 1h1v1h-1zM1 2h1v1h-1zM61 2h1v1h-1zM0 3h1v1h-1zM4 3h1v1h-1zM8 3h1v1h-1zM12 3h1v1h-1zM31 3h1v1h-1zM45 3h1v1h-1zM55 3h1v1h-1zM58 3h1v1h-1zM17 4h1v1h-1zM19 4h2v1h-2zM23 4h1v1h-1zM33 4h1v1h-1zM35 4h1v1h-1zM42 4h1v1h-1zM48 4h1v1h-1zM3 5h1v1h-1zM11 5h2v1h-2zM20 5h1v1h-1zM57 5h1v1h-1zM2 6h1v1h-1zM20 6h1v1h-1zM25 6h1v1h-1zM31 6h2v1h-2zM40 6h1v1h-1zM49 6h1v1h-1zM53 6h1v1h-1zM18 7h1v1h-1zM34 7h2v1h-2zM10 8h1v1h-1zM42 8h1v1h-1zM57 8h1v1h-1zM62 8h1v1h-1zM12 9h1v1h-1zM19 9h1v1h-1zM40 9h1v1h-1zM2 10h1v1h-1zM9 10h1v1h-1zM22 10h2v1h-2zM26 10h1v1h-1zM48 10h2v1h-2zM57 10h1v1h-1zM59 10h1v1h-1zM63 10h1v1h-1zM11 11h1v1h-1zM17 11h1v1h-1zM34 11h1v1h-1zM57 11h1v1h-1zM6 12h1v1h-1zM19 12h1v1h-1zM22 12h1v1h-1zM37 12h1v1h-1zM48 12h2v1h-2zM2 13h1v1h-1zM6 13h1v1h-1zM8 13h1v1h-1zM11 13h2v1h-2zM15 13h1v1h-1zM18 13h1v1h-1zM24 13h1v1h-1zM30 13h1v1h-1zM37 13h1v1h-1zM48 13h1v1h-1zM9 14h1v1h-1zM15 14h1v1h-1zM22 14h1v1h-1zM24 14h1v1h-1zM26 14h1v1h-1zM30 14h1v1h-1zM52 14h1v1h-1zM56 14h2v1h-2zM1 15h1v1h-1zM4 15h1v1h-1zM6 15h1v1h-1zM17 15h2v1h-2zM44 15h1v1h-1zM55 15h2v1h-2zM1 16h1v1h-1zM9 16h1v1h-1zM12 16h1v1h-1zM22 16h1v1h-1zM32 16h1v1h-1zM35 16h1v1h-1zM40 16h1v1h-1zM46 16h1v1h-1zM59 16h1v1h-1zM7 17h1v1h-1zM30 17h1v1h-1zM56 17h1v1h-1zM0 18h1v1h-1zM35 18h1v1h-1zM45 18h1v1h-1zM56 18h1v1h-1zM0 19h1v1h-1zM9 19h1v1h-1zM14 19h1v1h-1zM48 19h1v1h-1zM51 19h1v1h-1zM60 19h1v1h-1zM7 20h1v1h-1zM9 20h1v1h-1zM11 20h1v1h-1zM33 20h1v1h-1zM56 20h1v1h-1zM2 21h1v1h-1zM6 21h1v1h-1zM10 21h1v1h-1zM16 21h1v1h-1zM33 21h1v1h-1zM53 21h1v1h-1zM58 21h1v1h-1zM7 22h1v1h-1zM21 22h1v1h-1zM51 22h1v1h-1zM60 22h1v1h-1zM2 23h1v1h-1zM19 23h1v1h-1zM47 23h1v1h-1zM5 24h2v1h-2zM13 24h1v1h-1zM20 24h1v1h-1zM28 24h1v1h-1zM30 24h1v1h-1zM34 24h2v1h-2zM49 24h1v1h-1zM3 25h1v1h-1zM14 25h1v1h-1zM44 25h1v1h-1zM57 25h1v1h-1zM6 26h1v1h-1zM28 26h1v1h-1zM31 26h2v1h-2zM35 26h1v1h-1zM55 26h1v1h-1zM60 26h1v1h-1zM18 27h1v1h-1zM24 27h1v1h-1zM35 27h1v1h-1zM50 27h1v1h-1zM53 27h1v1h-1zM59 27h1v1h-1zM7 28h1v1h-1zM9 28h1v1h-1zM23 28h1v1h-1zM29 28h1v1h-1zM35 28h1v1h-1zM46 28h1v1h-1zM52 28h1v1h-1zM54 28h1v1h-1zM58 28h1v1h-1zM61 28h1v1h-1zM2 29h2v1h-2zM8 29h1v1h-1zM10 29h1v1h-1zM25 29h1v1h-1zM34 29h1v1h-1zM36 29h2v1h-2zM41 29h1v1h-1zM54 29h1v1h-1zM38 30h1v1h-1zM45 30h1v1h-1zM49 30h1v1h-1zM62 30h1v1h-1zM9 31h2v1h-2zM12 31h1v1h-1zM41 31h2v1h-2zM52 31h1v1h-1zM55 31h1v1h-1zM11 32h1v1h-1zM24 32h1v1h-1zM35 32h1v1h-1zM41 32h2v1h-2zM44 32h1v1h-1zM3 33h1v1h-1zM51 33h1v1h-1zM53 33h2v1h-2zM56 33h1v1h-1zM1 34h2v1h-2zM5 34h1v1h-1zM10 34h1v1h-1zM15 34h1v1h-1zM38 34h2v1h-2zM42 34h1v1h-1zM46 34h1v1h-1zM53 34h1v1h-1zM58 34h1v1h-1zM63 34h1v1h-1zM33 35h1v1h-1zM40 35h2v1h-2zM43 35h1v1h-1zM53 35h1v1h-1zM17 36h1v1h-1zM33 36h1v1h-1zM35 36h1v1h-1zM38 36h1v1h-1zM45 36h1v1h-1zM59 36h1v1h-1zM1 37h1v1h-1zM17 37h1v1h-1zM30 37h1v1h-1zM35 37h1v1h-1zM47 37h1v1h-1zM55 37h1v1h-1zM1 38h1v1h-1zM7 38h1v1h-1zM10 38h1v1h-1zM17 38h1v1h-1zM20 38h1v1h-1zM24 38h1v1h-1zM53 38h1v1h-1zM59 38h1v1h-1zM62 38h1v1h-1zM31 39h2v1h-2zM38 39h1v1h-1zM57 39h1v1h-1zM59 39h1v1h-1zM15 40h1v1h-1zM21 40h1v1h-1zM26 40h1v1h-1zM31 40h1v1h-1zM42 40h1v1h-1zM12 41h1v1h-1zM30 41h1v1h-1zM41 41h2v1h-2zM46 41h1v1h-1zM50 41h1v1h-1zM55 41h1v1h-1zM7 42h2v1h-2zM27 42h2v1h-2zM30 42h1v1h-1zM36 42h1v1h-1zM38 42h1v1h-1zM53 42h1v1h-1zM55 42h1v1h-1zM57 42h1v1h-1zM62 42h1v1h-1zM25 43h1v1h-1zM29 43h1v1h-1zM36 43h1v1h-1zM41 43h1v1h-1zM47 43h1v1h-1zM46 44h1v1h-1zM48 44h1v1h-1zM53 44h1v1h-1zM58 44h1v1h-1zM3 45h1v1h-1zM9 45h1v1h-1zM25 45h1v1h-1zM33 45h1v1h-1zM43 45h1v1h-1zM45 45h1v1h-1zM55 45h2v1h-2zM7 46h1v1h-1zM19 46h1v1h-1zM24 46h1v1h-1zM31 46h1v1h-1zM33 46h1v1h-1zM53 46h1v1h-1zM60 46h2v1h-2zM47 47h1v1h-1zM3 48h1v1h-1zM10 48h1v1h-1zM17 48h1v1h-1zM19 48h1v1h-1zM34 48h1v1h-1zM36 48h1v1h-1zM43 48h1v1h-1zM50 48h1v1h-1zM5 49h1v1h-1zM19 49h1v1h-1zM24 49h1v1h-1zM26 49h1v1h-1zM43 49h1v1h-1zM61 49h2v1h-2zM22 50h2v1h-2zM29 50h1v1h-1zM33 50h1v1h-1zM42 50h1v1h-1zM46 50h1v1h-1zM49 50h1v1h-1zM13 51h1v1h-1zM25 51h2v1h-2zM34 51h1v1h-1zM37 51h1v1h-1zM43 51h2v1h-2zM50 51h1v1h-1zM58 51h1v1h-1zM0 52h1v1h-1zM26 52h1v1h-1zM33 52h1v1h-1zM55 52h1v1h-1zM0 53h2v1h-2zM6 53h1v1h-1zM8 53h1v1h-1zM23 53h1v1h-1zM28 53h1v1h-1zM46 53h1v1h-1zM55 53h1v1h-1zM59 53h1v1h-1zM30 54h1v1h-1zM36 54h1v1h-1zM42 54h1v1h-1zM47 54h1v1h-1zM24 55h1v1h-1zM49 55h1v1h-1zM58 55h1v1h-1zM0 56h1v1h-1zM8 56h1v1h-1zM12 56h1v1h-1zM16 56h1v1h-1zM24 56h1v1h-1zM29 56h1v1h-1zM40 56h1v1h-1zM57 56h1v1h-1zM8 57h1v1h-1zM14 57h1v1h-1zM17 57h1v1h-1zM29 57h1v1h-1zM35 57h3v1h-3zM40 57h1v1h-1zM56 57h1v1h-1zM2 58h1v1h-1zM16 58h1v1h-1zM36 58h1v1h-1zM40 58h1v1h-1zM47 58h4v1h-4zM56 58h1v1h-1zM1 59h1v1h-1zM3 59h1v1h-1zM9 59h1v1h-1zM12 59h1v1h-1zM22 59h1v1h-1zM27 59h1v1h-1zM34 59h1v1h-1zM2 60h1v1h-1zM5 60h1v1h-1zM15 60h1v1h-1zM22 60h1v1h-1zM29 60h2v1h-2zM46 60h1v1h-1zM55 60h1v1h-1zM61 60h1v1h-1zM35 61h1v1h-1zM52 61h1v1h-1zM57 61h1v1h-1zM1 62h1v1h-1zM4 62h1v1h-1zM22 62h1v1h-1zM42 62h1v1h-1zM51 62h1v1h-1zM0 63h1v1h-1zM9 63h1v1h-1zM18 63h1v1h-1zM39 63h1v1h-1zM47 63h1v1h-1zM52 63h2v1h-2zM57 63h1v1h-1zM62 63h1v1h-1z"/><path fill="rgb(137,137,137)" d="M1 0h1v1h-1zM9 0h1v1h-1zM16 0h1v1h-1zM22 0h1v1h-1zM25 0h1v1h-1zM36 0h1v1h-1zM55 0h1v1h-1zM20 1h1v1h-1zM29 1h1v1h-1zM35 1h1v1h-1zM40 1h1v1h-1zM50 1h1v1h-1zM58 1h2v1h-2zM5 2h1v1h-1zM8 2h1v1h-1zM27 2h1v1h-1zM35 2h3v1h-3zM47 2h1v1h-1zM53 2h1v1h-1zM62 2h1v1h-1zM11 3h1v1h-1zM16 3h3v1h-3zM20 3h1v1h-1zM25 3h1v1h-1zM29 3h1v1h-1zM34 3h1v1h-1zM39 3h1v1h-1zM46 3h1v1h-1zM1 4h1v1h-1zM11 4h1v1h-1zM29 4h1v1h-1zM40 4h2v1h-2zM49 4h2v1h-2zM55 4h2v1h-2zM10 5h1v1h-1zM14 5h1v1h-1zM33 5h1v1h-1zM41 5h1v1h-1zM53 5h1v1h-1zM12 6h1v1h-1zM16 6h1v1h-1zM26 6h1v1h-1zM37 6h1v1h-1zM46 6h2v1h-2zM50 6h1v1h-1zM0 7h1v1h-1zM3 7h1v1h-1zM8 7h1v1h-1zM25 7h1v1h-1zM29 7h1v1h-1zM53 7h1v1h-1zM63 7h1v1h-1zM6 8h1v1h-1zM8 8h1v1h-1zM14 8h1v1h-1zM17 8h1v1h-1zM20 8h1v1h-1zM32 8h1v1h-1zM54 8h1v1h-1zM5 9h1v1h-1zM23 9h1v1h-1zM33 9h1v1h-1zM57 9h2v1h-2zM61 9h1v1h-1zM3 10h1v1h-1zM19 10h1v1h-1zM37 10h1v1h-1zM62 10h1v1h-1zM1 11h1v1h-1zM4 11h1v1h-1zM25 11h1v1h-1zM27 11h1v1h-1zM59 11h2v1h-2zM1 12h1v1h-1zM5 12h1v1h-1zM13 12h1v1h-1zM15 12h1v1h-1zM20 12h1v1h-1zM30 12h2v1h-2zM35 12h1v1h-1zM40 12h1v1h-1zM42 12h1v1h-1zM52 12h1v1h-1zM54 12h1v1h-1zM7 13h1v1h-1zM36 13h1v1h-1zM40 13h1v1h-1zM2 14h1v1h-1zM10 14h1v1h-1zM31 14h1v1h-1zM37 14h1v1h-1zM45 14h2v1h-2zM7 15h1v1h-1zM28 15h1v1h-1zM39 15h1v1h-1zM58 15h2v1h-2zM61 15h1v1h-1zM24 16h1v1h-1zM51 16h2v1h-2zM62 16h1v1h-1zM4 17h1v1h-1zM13 17h1v1h-1zM19 17h1v1h-1zM27 17h1v1h-1zM46 17h1v1h-1zM53 17h1v1h-1zM60 17h1v1h-1zM25 18h2v1h-2zM34 18h1v1h-1zM50 18h1v1h-1zM11 19h1v1h-1zM17 19h1v1h-1zM20 19h1v1h-1zM23 19h2v1h-2zM40 19h1v1h-1zM59 19h1v1h-1zM62 19h2v1h-2zM2 20h1v1h-1zM10 20h1v1h-1zM20 20h1v1h-1zM47 20h1v1h-1zM8 21h1v1h-1zM11 21h1v1h-1zM25 21h1v1h-1zM30 21h1v1h-1zM5 22h1v1h-1zM13 22h1v1h-1zM19 22h1v1h-1zM44 22h1v1h-1zM49 22h1v1h-1zM54 22h1v1h-1zM3 23h1v1h-1zM22 23h1v1h-1zM44 23h1v1h-1zM60 23h1v1h-1zM62 23h1v1h-1zM3 24h1v1h-1zM7 24h1v1h-1zM11 24h2v1h-2zM15 24h1v1h-1zM33 24h1v1h-1zM37 24h2v1h-2zM40 24h1v1h-1zM58 24h1v1h-1zM10 25h1v1h-1zM13 25h1v1h-1zM17 25h1v1h-1zM36 25h1v1h-1zM3 26h2v1h-2zM20 26h1v1h-1zM26 26h1v1h-1zM39 26h1v1h-1zM16 27h1v1h-1zM32 27h1v1h-1zM39 27h1v1h-1zM54 27h1v1h-1zM62 27h1v1h-1zM0 28h1v1h-1zM38 28h1v1h-1zM62 28h1v1h-1zM14 29h1v1h-1zM17 29h1v1h-1zM20 29h1v1h-1zM38 29h2v1h-2zM52 29h1v1h-1zM2 30h1v1h-1zM5 30h1v1h-1zM17 30h1v1h-1zM53 30h1v1h-1zM58 30h1v1h-1zM61 30h1v1h-1zM13 31h1v1h-1zM23 31h1v1h-1zM36 31h1v1h-1zM38 31h1v1h-1zM53 31h1v1h-1zM9 32h1v1h-1zM15 32h1v1h-1zM19 32h1v1h-1zM21 32h1v1h-1zM23 32h1v1h-1zM27 32h1v1h-1zM30 32h1v1h-1zM33 32h1v1h-1zM38 32h1v1h-1zM50 32h1v1h-1zM55 32h1v1h-1zM0 33h1v1h-1zM2 33h1v1h-1zM29 33h1v1h-1zM60 33h1v1h-1zM7 34h1v1h-1zM12 34h1v1h-1zM14 34h1v1h-1zM21 34h1v1h-1zM24 34h1v1h-1zM26 34h1v1h-1zM30 34h1v1h-1zM36 34h1v1h-1zM44 34h1v1h-1zM2 35h1v1h-1zM12 35h1v1h-1zM17 35h1v1h-1zM22 35h1v1h-1zM31 35h1v1h-1zM56 35h1v1h-1zM6 36h1v1h-1zM10 36h1v1h-1zM22 36h1v1h-1zM37 36h1v1h-1zM47 36h1v1h-1zM52 36h1v1h-1zM54 36h1v1h-1zM63 36h1v1h-1zM4 37h2v1h-2zM13 37h1v1h-1zM22 37h1v1h-1zM26 37h1v1h-1zM28 37h1v1h-1zM61 37h1v1h-1zM3 38h1v1h-1zM11 38h1v1h-1zM37 38h1v1h-1zM39 38h2v1h-2zM3 39h1v1h-1zM27 39h1v1h-1zM51 39h1v1h-1zM56 39h1v1h-1zM60 39h1v1h-1zM2 40h1v1h-1zM16 40h1v1h-1zM38 40h1v1h-1zM46 40h1v1h-1zM48 40h1v1h-1zM19 41h1v1h-1zM29 41h1v1h-1zM39 41h2v1h-2zM44 41h1v1h-1zM49 41h1v1h-1zM12 42h1v1h-1zM18 42h1v1h-1zM32 42h1v1h-1zM46 42h2v1h-2zM50 42h1v1h-1zM60 42h2v1h-2zM0 43h1v1h-1zM6 43h1v1h-1zM15 43h3v1h-3zM38 43h1v1h-1zM52 43h1v1h-1zM62 43h1v1h-1zM5 44h1v1h-1zM8 44h1v1h-1zM11 44h1v1h-1zM27 44h1v1h-1zM45 44h1v1h-1zM54 44h1v1h-1zM4 45h1v1h-1zM12 45h1v1h-1zM15 45h1v1h-1zM23 45h1v1h-1zM27 45h1v1h-1zM30 45h1v1h-1zM38 45h2v1h-2zM54 45h1v1h-1zM61 45h1v1h-1zM4 46h1v1h-1zM16 46h1v1h-1zM20 46h2v1h-2zM40 46h1v1h-1zM50 46h1v1h-1zM11 47h1v1h-1zM18 47h1v1h-1zM43 47h1v1h-1zM62 47h1v1h-1zM2 48h1v1h-1zM16 48h1v1h-1zM22 48h1v1h-1zM26 48h1v1h-1zM52 48h2v1h-2zM55 48h2v1h-2zM13 49h1v1h-1zM48 49h1v1h-1zM13 50h1v1h-1zM20 50h1v1h-1zM47 50h1v1h-1zM22 51h1v1h-1zM35 51h1v1h-1zM38 51h1v1h-1zM52 51h1v1h-1zM56 51h1v1h-1zM59 51h1v1h-1zM63 51h1v1h-1zM3 52h1v1h-1zM36 52h1v1h-1zM45 52h1v1h-1zM47 52h1v1h-1zM56 52h2v1h-2zM9 53h1v1h-1zM15 53h1v1h-1zM18 53h1v1h-1zM21 53h1v1h-1zM47 53h1v1h-1zM58 53h1v1h-1zM63 53h1v1h-1zM25 54h1v1h-1zM35 54h1v1h-1zM45 54h1v1h-1zM48 54h2v1h-2zM51 54h1v1h-1zM53 54h2v1h-2zM58 54h1v1h-1zM62 54h1v1h-1zM9 55h1v1h-1zM14 55h1v1h-1zM22 55h2v1h-2zM32 55h1v1h-1zM42 55h1v1h-1zM52 55h1v1h-1zM54 55h1v1h-1zM11 56h1v1h-1zM17 56h1v1h-1zM22 56h1v1h-1zM37 56h1v1h-1zM42 56h1v1h-1zM51 56h1v1h-1zM56 56h1v1h-1zM3 57h1v1h-1zM12 57h2v1h-2zM34 57h1v1h-1zM60 57h1v1h-1zM13 58h1v1h-1zM25 58h1v1h-1zM51 58h1v1h-1zM11 59h1v1h-1zM31 59h1v1h-1zM51 59h1v1h-1zM58 59h1v1h-1zM62 59h2v1h-2zM12 60h1v1h-1zM14 60h1v1h-1zM17 60h1v1h-1zM28 60h1v1h-1zM42 60h1v1h-1zM48 60h1v1h-1zM54 60h1v1h-1zM57 60h1v1h-1zM6 61h3v1h-3zM18 61h2v1h-2zM21 61h1v1h-1zM25 61h1v1h-1zM31 61h3v1h-3zM48 61h1v1h-1zM50 61h1v1h-1zM17 62h1v1h-1zM19 62h1v1h-1zM25 62h2v1h-2zM28 62h1v1h-1zM30 62h1v1h-1zM4 63h1v1h-1zM33 63h1v1h-1zM40 63h1v1h-1zM45 63h2v1h-2z"/><path fill="rgb(156,156,156)" d="M11 0h2v1h-2zM17 0h1v1h-1zM19 0h1v1h-1zM45 0h1v1h-1zM0 1h1v1h-1zM22 1h1v1h-1zM30 1h1v1h-1zM32 1h1v1h-1zM54 1h1v1h-1zM13 2h1v1h-1zM16 2h1v1h-1zM26 2h1v1h-1zM29 2h1v1h-1zM42 2h1v1h-1zM51 2h1v1h-1zM59 2h1v1h-1zM15 3h1v1h-1zM52 3h1v1h-1zM12 4h1v1h-1zM18 4h1v1h-1zM26 4h1v1h-1zM34 4h1v1h-1zM45 4h1v1h-1zM52 4h1v1h-1zM62 4h1v1h-1zM4 5h1v1h-1zM15 5h1v1h-1zM19 5h1v1h-1zM31 5h1v1h-1zM63 5h1v1h-1zM3 6h1v1h-1zM5 6h1v1h-1zM9 6h1v1h-1zM15 6h1v1h-1zM36 6h1v1h-1zM43 6h1v1h-1zM45 6h1v1h-1zM59 6h1v1h-1zM1 7h1v1h-1zM44 7h1v1h-1zM49 7h1v1h-1zM58 7h1v1h-1zM1 8h1v1h-1zM19 8h1v1h-1zM24 8h1v1h-1zM26 8h1v1h-1zM59 8h1v1h-1zM63 8h1v1h-1zM0 9h1v1h-1zM4 9h1v1h-1zM6 9h1v1h-1zM14 9h2v1h-2zM20 9h1v1h-1zM52 9h2v1h-2zM12 10h1v1h-1zM17 10h1v1h-1zM25 10h1v1h-1zM61 10h1v1h-1zM2 11h1v1h-1zM15 11h1v1h-1zM19 11h2v1h-2zM31 11h1v1h-1zM40 11h3v1h-3zM54 11h1v1h-1zM0 12h1v1h-1zM8 12h1v1h-1zM11 12h2v1h-2zM17 12h1v1h-1zM23 12h1v1h-1zM56 12h1v1h-1zM63 12h1v1h-1zM17 13h1v1h-1zM20 13h1v1h-1zM51 13h1v1h-1zM4 14h1v1h-1zM11 14h1v1h-1zM14 14h1v1h-1zM25 14h1v1h-1zM39 14h1v1h-1zM0 15h1v1h-1zM2 15h1v1h-1zM24 15h1v1h-1zM27 15h1v1h-1zM32 15h1v1h-1zM47 15h1v1h-1zM51 15h1v1h-1zM0 16h1v1h-1zM20 16h1v1h-1zM43 16h1v1h-1zM63 16h1v1h-1zM0 17h1v1h-1zM12 17h1v1h-1zM18 17h1v1h-1zM29 17h1v1h-1zM50 17h1v1h-1zM58 17h2v1h-2zM61 17h1v1h-1zM3 18h1v1h-1zM7 18h1v1h-1zM18 18h1v1h-1zM24 18h1v1h-1zM59 18h1v1h-1zM61 18h2v1h-2zM5 19h1v1h-1zM13 19h1v1h-1zM25 19h1v1h-1zM29 19h1v1h-1zM36 19h1v1h-1zM45 19h1v1h-1zM52 19h1v1h-1zM21 20h1v1h-1zM30 20h1v1h-1zM37 20h1v1h-1zM55 20h1v1h-1zM63 20h1v1h-1zM0 21h1v1h-1zM32 21h1v1h-1zM36 21h1v1h-1zM49 21h1v1h-1zM55 21h1v1h-1zM2 22h1v1h-1zM23 22h1v1h-1zM33 22h1v1h-1zM58 22h1v1h-1zM61 22h2v1h-2zM9 23h1v1h-1zM13 23h4v1h-4zM21 23h1v1h-1zM28 23h1v1h-1zM31 23h1v1h-1zM36 23h1v1h-1zM41 23h1v1h-1zM45 23h1v1h-1zM50 23h1v1h-1zM56 23h1v1h-1zM63 23h1v1h-1zM10 24h1v1h-1zM25 24h1v1h-1zM32 24h1v1h-1zM36 24h1v1h-1zM63 24h1v1h-1zM16 25h1v1h-1zM20 25h1v1h-1zM31 25h1v1h-1zM37 25h1v1h-1zM43 25h1v1h-1zM53 25h1v1h-1zM41 26h1v1h-1zM46 26h1v1h-1zM62 26h1v1h-1zM5 27h1v1h-1zM23 27h1v1h-1zM37 27h2v1h-2zM49 27h1v1h-1zM57 27h1v1h-1zM12 28h1v1h-1zM21 28h1v1h-1zM34 28h1v1h-1zM51 28h1v1h-1zM63 28h1v1h-1zM35 29h1v1h-1zM44 29h1v1h-1zM49 29h2v1h-2zM58 29h1v1h-1zM60 29h1v1h-1zM11 30h1v1h-1zM14 30h1v1h-1zM20 30h2v1h-2zM27 30h1v1h-1zM31 30h1v1h-1zM33 30h1v1h-1zM44 30h1v1h-1zM51 30h1v1h-1zM57 30h1v1h-1zM4 31h2v1h-2zM17 31h1v1h-1zM19 31h1v1h-1zM25 31h1v1h-1zM28 31h1v1h-1zM47 31h1v1h-1zM54 31h1v1h-1zM56 31h1v1h-1zM58 31h1v1h-1zM8 32h1v1h-1zM10 32h1v1h-1zM37 32h1v1h-1zM54 32h1v1h-1zM62 32h2v1h-2zM9 33h1v1h-1zM26 33h1v1h-1zM28 33h1v1h-1zM49 33h1v1h-1zM18 34h1v1h-1zM23 34h1v1h-1zM25 34h1v1h-1zM47 34h1v1h-1zM56 34h1v1h-1zM60 34h1v1h-1zM6 35h2v1h-2zM23 35h1v1h-1zM25 35h1v1h-1zM45 35h1v1h-1zM62 35h2v1h-2zM1 36h1v1h-1zM8 36h1v1h-1zM13 36h2v1h-2zM19 36h2v1h-2zM26 36h1v1h-1zM28 36h1v1h-1zM36 36h1v1h-1zM57 36h1v1h-1zM7 37h1v1h-1zM12 37h1v1h-1zM20 37h1v1h-1zM25 37h1v1h-1zM37 37h1v1h-1zM40 37h1v1h-1zM49 37h1v1h-1zM60 37h1v1h-1zM2 38h1v1h-1zM5 38h1v1h-1zM33 38h1v1h-1zM43 38h1v1h-1zM46 38h1v1h-1zM63 38h1v1h-1zM11 39h1v1h-1zM15 39h2v1h-2zM26 39h1v1h-1zM30 39h1v1h-1zM33 39h1v1h-1zM39 39h1v1h-1zM55 39h1v1h-1zM62 39h1v1h-1zM6 40h1v1h-1zM11 40h1v1h-1zM17 40h1v1h-1zM19 40h1v1h-1zM36 40h1v1h-1zM47 40h1v1h-1zM61 40h1v1h-1zM6 41h1v1h-1zM28 41h1v1h-1zM43 41h1v1h-1zM52 41h1v1h-1zM57 41h2v1h-2zM60 41h1v1h-1zM17 42h1v1h-1zM35 42h1v1h-1zM37 42h1v1h-1zM8 43h1v1h-1zM35 43h1v1h-1zM40 43h1v1h-1zM42 43h1v1h-1zM61 43h1v1h-1zM6 44h2v1h-2zM12 44h1v1h-1zM19 44h2v1h-2zM44 44h1v1h-1zM47 44h1v1h-1zM57 44h1v1h-1zM10 45h2v1h-2zM17 45h1v1h-1zM26 45h1v1h-1zM28 45h1v1h-1zM37 45h1v1h-1zM62 45h1v1h-1zM6 46h1v1h-1zM8 46h1v1h-1zM30 46h1v1h-1zM37 46h1v1h-1zM43 46h1v1h-1zM51 46h1v1h-1zM55 46h1v1h-1zM2 47h2v1h-2zM19 47h1v1h-1zM24 47h1v1h-1zM27 47h1v1h-1zM42 47h1v1h-1zM48 47h1v1h-1zM59 47h1v1h-1zM0 48h2v1h-2zM9 48h1v1h-1zM30 48h1v1h-1zM44 48h1v1h-1zM51 48h1v1h-1zM61 48h1v1h-1zM15 49h2v1h-2zM18 49h1v1h-1zM21 49h1v1h-1zM56 49h1v1h-1zM63 49h1v1h-1zM32 50h1v1h-1zM41 50h1v1h-1zM52 50h1v1h-1zM7 51h1v1h-1zM19 51h1v1h-1zM45 51h1v1h-1zM32 52h1v1h-1zM38 52h1v1h-1zM41 52h1v1h-1zM48 52h1v1h-1zM50 52h1v1h-1zM52 52h1v1h-1zM59 52h1v1h-1zM3 53h1v1h-1zM5 53h1v1h-1zM14 53h1v1h-1zM19 53h1v1h-1zM42 53h1v1h-1zM45 53h1v1h-1zM48 53h1v1h-1zM5 54h1v1h-1zM7 54h1v1h-1zM15 54h1v1h-1zM26 54h1v1h-1zM29 54h1v1h-1zM61 54h1v1h-1zM6 55h1v1h-1zM12 55h2v1h-2zM15 55h1v1h-1zM17 55h1v1h-1zM27 55h1v1h-1zM36 55h1v1h-1zM41 55h1v1h-1zM46 55h1v1h-1zM50 55h1v1h-1zM61 55h1v1h-1zM63 55h1v1h-1zM4 56h1v1h-1zM18 56h1v1h-1zM36 56h1v1h-1zM52 56h1v1h-1zM0 57h1v1h-1zM7 57h1v1h-1zM16 57h1v1h-1zM19 57h1v1h-1zM46 57h1v1h-1zM62 57h2v1h-2zM0 58h1v1h-1zM4 58h1v1h-1zM15 58h1v1h-1zM26 58h1v1h-1zM31 58h1v1h-1zM34 58h1v1h-1zM37 58h2v1h-2zM41 58h1v1h-1zM46 58h1v1h-1zM61 58h2v1h-2zM10 59h1v1h-1zM29 59h2v1h-2zM35 59h1v1h-1zM46 59h1v1h-1zM54 59h1v1h-1zM56 59h1v1h-1zM59 59h2v1h-2zM16 60h1v1h-1zM23 60h1v1h-1zM35 60h1v1h-1zM62 60h1v1h-1zM12 61h1v1h-1zM14 61h1v1h-1zM17 61h1v1h-1zM37 61h1v1h-1zM41 61h1v1h-1zM59 61h2v1h-2zM5 62h1v1h-1zM37 62h1v1h-1zM46 62h1v1h-1zM23 63h2v1h-2zM44 63h1v1h-1zM54 63h1v1h-1zM58 63h1v1h-1z"/><path fill="rgb(177,177,177)" d="M51 0h1v1h-1zM4 1h1v1h-1zM11 1h1v1h-1zM28 1h1v1h-1zM31 1h1v1h-1zM61 1h1v1h-1zM10 2h2v1h-2zM15 2h1v1h-1zM20 2h1v1h-1zM31 2h1v1h-1zM45 2h2v1h-2zM48 2h2v1h-2zM57 2h2v1h-2zM2 3h2v1h-2zM10 3h1v1h-1zM33 3h1v1h-1zM41 3h1v1h-1zM51 3h1v1h-1zM62 3h1v1h-1zM3 4h1v1h-1zM9 4h1v1h-1zM16 4h1v1h-1zM8 5h1v1h-1zM36 5h1v1h-1zM40 5h1v1h-1zM48 5h1v1h-1zM8 6h1v1h-1zM17 6h1v1h-1zM29 6h1v1h-1zM33 6h1v1h-1zM39 6h1v1h-1zM58 6h1v1h-1zM2 7h1v1h-1zM4 7h1v1h-1zM7 7h1v1h-1zM24 7h1v1h-1zM26 7h1v1h-1zM42 7h2v1h-2zM50 7h1v1h-1zM2 8h3v1h-3zM18 8h1v1h-1zM48 8h1v1h-1zM11 9h1v1h-1zM42 9h1v1h-1zM48 9h1v1h-1zM62 9h2v1h-2zM1 10h1v1h-1zM7 10h2v1h-2zM13 10h1v1h-1zM42 10h1v1h-1zM44 10h1v1h-1zM0 11h1v1h-1zM23 11h1v1h-1zM26 11h1v1h-1zM33 11h1v1h-1zM52 11h1v1h-1zM14 12h1v1h-1zM27 12h1v1h-1zM41 12h1v1h-1zM55 12h1v1h-1zM5 13h1v1h-1zM14 13h1v1h-1zM32 13h1v1h-1zM39 13h1v1h-1zM6 14h1v1h-1zM12 14h2v1h-2zM20 14h1v1h-1zM35 14h1v1h-1zM41 14h1v1h-1zM47 14h1v1h-1zM51 14h1v1h-1zM62 14h2v1h-2zM5 15h1v1h-1zM9 15h2v1h-2zM12 15h1v1h-1zM26 15h1v1h-1zM36 15h1v1h-1zM40 15h1v1h-1zM43 15h1v1h-1zM45 15h1v1h-1zM54 15h1v1h-1zM62 15h1v1h-1zM11 16h1v1h-1zM18 16h1v1h-1zM21 16h1v1h-1zM29 16h1v1h-1zM34 16h1v1h-1zM36 16h1v1h-1zM44 16h1v1h-1zM53 16h1v1h-1zM1 17h2v1h-2zM5 17h1v1h-1zM15 17h1v1h-1zM22 17h1v1h-1zM31 17h1v1h-1zM38 17h1v1h-1zM43 17h2v1h-2zM51 17h1v1h-1zM2 18h1v1h-1zM4 18h1v1h-1zM10 18h2v1h-2zM42 18h2v1h-2zM53 18h1v1h-1zM6 19h1v1h-1zM15 19h1v1h-1zM18 19h2v1h-2zM28 19h1v1h-1zM33 19h1v1h-1zM44 19h1v1h-1zM46 19h2v1h-2zM6 20h1v1h-1zM15 20h1v1h-1zM29 20h1v1h-1zM44 20h1v1h-1zM46 20h1v1h-1zM61 20h1v1h-1zM1 21h1v1h-1zM7 21h1v1h-1zM23 21h1v1h-1zM35 21h1v1h-1zM52 21h1v1h-1zM56 21h1v1h-1zM0 22h1v1h-1zM9 22h1v1h-1zM31 22h1v1h-1zM35 22h1v1h-1zM37 22h1v1h-1zM43 22h1v1h-1zM48 22h1v1h-1zM55 22h1v1h-1zM8 23h1v1h-1zM17 23h1v1h-1zM40 23h1v1h-1zM42 23h1v1h-1zM49 23h1v1h-1zM54 23h1v1h-1zM59 23h1v1h-1zM8 24h1v1h-1zM41 24h1v1h-1zM62 24h1v1h-1zM1 25h1v1h-1zM8 25h1v1h-1zM23 25h1v1h-1zM40 25h2v1h-2zM55 25h2v1h-2zM58 25h1v1h-1zM0 26h1v1h-1zM5 26h1v1h-1zM10 26h1v1h-1zM13 26h1v1h-1zM18 26h1v1h-1zM30 26h1v1h-1zM36 26h1v1h-1zM40 26h1v1h-1zM42 26h1v1h-1zM54 26h1v1h-1zM0 27h1v1h-1zM3 27h1v1h-1zM7 27h1v1h-1zM31 27h1v1h-1zM43 27h2v1h-2zM55 27h2v1h-2zM58 27h1v1h-1zM19 28h1v1h-1zM28 28h1v1h-1zM36 28h1v1h-1zM42 28h1v1h-1zM47 28h1v1h-1zM56 28h1v1h-1zM0 29h1v1h-1zM29 29h1v1h-1zM33 29h1v1h-1zM51 29h1v1h-1zM53 29h1v1h-1zM63 29h1v1h-1zM0 30h1v1h-1zM16 30h1v1h-1zM22 30h1v1h-1zM50 30h1v1h-1zM52 30h1v1h-1zM55 30h2v1h-2zM59 30h1v1h-1zM63 30h1v1h-1zM14 31h1v1h-1zM29 31h1v1h-1zM34 31h1v1h-1zM37 31h1v1h-1zM4 32h1v1h-1zM26 32h1v1h-1zM49 32h1v1h-1zM1 33h1v1h-1zM13 33h1v1h-1zM18 33h1v1h-1zM23 33h2v1h-2zM36 33h2v1h-2zM3 34h2v1h-2zM22 34h1v1h-1zM27 34h1v1h-1zM29 34h1v1h-1zM48 34h1v1h-1zM50 34h2v1h-2zM55 34h1v1h-1zM59 34h1v1h-1zM3 35h1v1h-1zM9 35h1v1h-1zM19 35h1v1h-1zM21 35h1v1h-1zM27 35h1v1h-1zM38 35h1v1h-1zM42 35h1v1h-1zM47 35h1v1h-1zM50 35h1v1h-1zM61 35h1v1h-1zM2 36h1v1h-1zM16 36h1v1h-1zM41 36h1v1h-1zM44 36h1v1h-1zM0 37h1v1h-1zM6 37h1v1h-1zM21 37h1v1h-1zM24 37h1v1h-1zM27 37h1v1h-1zM31 37h1v1h-1zM42 37h1v1h-1zM53 37h1v1h-1zM15 38h2v1h-2zM21 38h1v1h-1zM23 38h1v1h-1zM29 38h2v1h-2zM41 38h1v1h-1zM55 38h1v1h-1zM57 38h1v1h-1zM5 39h1v1h-1zM34 39h1v1h-1zM43 39h2v1h-2zM9 40h1v1h-1zM12 40h1v1h-1zM22 40h1v1h-1zM24 40h1v1h-1zM28 40h2v1h-2zM39 40h1v1h-1zM49 40h1v1h-1zM51 40h1v1h-1zM56 40h1v1h-1zM59 40h1v1h-1zM13 41h1v1h-1zM15 41h1v1h-1zM31 41h2v1h-2zM34 41h1v1h-1zM0 42h1v1h-1zM2 42h1v1h-1zM42 42h2v1h-2zM54 42h1v1h-1zM21 43h1v1h-1zM27 43h1v1h-1zM30 43h1v1h-1zM45 43h1v1h-1zM60 43h1v1h-1zM0 44h1v1h-1zM9 44h2v1h-2zM23 44h1v1h-1zM43 44h1v1h-1zM13 45h1v1h-1zM16 45h1v1h-1zM19 45h1v1h-1zM34 45h1v1h-1zM48 45h2v1h-2zM63 45h1v1h-1zM3 46h1v1h-1zM14 46h1v1h-1zM32 46h1v1h-1zM59 46h1v1h-1zM63 46h1v1h-1zM13 47h1v1h-1zM21 47h1v1h-1zM29 47h1v1h-1zM52 47h1v1h-1zM11 48h2v1h-2zM14 48h1v1h-1zM20 48h1v1h-1zM28 48h1v1h-1zM40 48h1v1h-1zM57 48h1v1h-1zM60 48h1v1h-1zM2 49h1v1h-1zM4 49h1v1h-1zM11 49h1v1h-1zM17 49h1v1h-1zM20 49h1v1h-1zM22 49h1v1h-1zM27 49h1v1h-1zM49 49h1v1h-1zM53 49h1v1h-1zM2 50h1v1h-1zM4 50h1v1h-1zM17 50h2v1h-2zM24 50h1v1h-1zM28 50h1v1h-1zM37 50h1v1h-1zM61 50h1v1h-1zM12 51h1v1h-1zM20 51h1v1h-1zM24 51h1v1h-1zM33 51h1v1h-1zM61 51h1v1h-1zM12 52h1v1h-1zM15 52h1v1h-1zM17 52h1v1h-1zM19 52h1v1h-1zM23 52h1v1h-1zM34 52h1v1h-1zM40 52h1v1h-1zM43 52h1v1h-1zM58 52h1v1h-1zM60 52h1v1h-1zM62 52h1v1h-1zM11 53h1v1h-1zM54 53h1v1h-1zM2 54h2v1h-2zM14 54h1v1h-1zM16 54h2v1h-2zM23 54h1v1h-1zM33 54h1v1h-1zM43 54h1v1h-1zM7 55h1v1h-1zM18 55h1v1h-1zM26 55h1v1h-1zM28 55h2v1h-2zM51 55h1v1h-1zM6 56h1v1h-1zM20 56h1v1h-1zM33 56h1v1h-1zM39 56h1v1h-1zM45 56h1v1h-1zM53 56h1v1h-1zM2 57h1v1h-1zM18 57h1v1h-1zM28 57h1v1h-1zM5 58h1v1h-1zM39 58h1v1h-1zM55 58h1v1h-1zM5 59h1v1h-1zM16 59h1v1h-1zM28 59h1v1h-1zM41 59h1v1h-1zM47 59h2v1h-2zM55 59h1v1h-1zM21 60h1v1h-1zM25 60h1v1h-1zM36 60h1v1h-1zM59 60h1v1h-1zM3 61h1v1h-1zM5 61h1v1h-1zM27 61h1v1h-1zM56 61h1v1h-1zM61 61h1v1h-1zM34 62h1v1h-1zM44 62h1v1h-1zM47 62h2v1h-2zM50 62h1v1h-1zM3 63h1v1h-1zM21 63h1v1h-1zM28 63h2v1h-2zM37 63h1v1h-1zM63 63h1v1h-1z"/><path fill="rgb(204,204,204)" d="M15 0h1v1h-1zM18 0h1v1h-1zM54 0h1v1h-1zM61 0h1v1h-1zM6 1h1v1h-1zM13 1h1v1h-1zM38 1h1v1h-1zM2 2h1v1h-1zM18 2h1v1h-1zM56 2h1v1h-1zM60 2h1v1h-1zM1 3h1v1h-1zM7 3h1v1h-1zM13 3h1v1h-1zM28 3h1v1h-1zM38 3h1v1h-1zM60 3h1v1h-1zM4 4h1v1h-1zM8 4h1v1h-1zM36 4h2v1h-2zM39 4h1v1h-1zM59 4h1v1h-1zM16 5h1v1h-1zM22 5h2v1h-2zM25 5h2v1h-2zM34 5h1v1h-1zM39 5h1v1h-1zM43 5h1v1h-1zM0 6h1v1h-1zM4 6h1v1h-1zM10 6h2v1h-2zM22 6h1v1h-1zM34 6h1v1h-1zM41 6h1v1h-1zM51 6h1v1h-1zM63 6h1v1h-1zM12 7h2v1h-2zM22 7h1v1h-1zM27 7h1v1h-1zM38 7h1v1h-1zM47 7h1v1h-1zM57 7h1v1h-1zM59 7h1v1h-1zM7 8h1v1h-1zM13 8h1v1h-1zM15 8h1v1h-1zM21 8h1v1h-1zM25 8h1v1h-1zM34 8h1v1h-1zM43 8h1v1h-1zM45 8h1v1h-1zM51 8h2v1h-2zM56 8h1v1h-1zM2 9h1v1h-1zM9 9h1v1h-1zM34 9h1v1h-1zM51 9h1v1h-1zM54 9h1v1h-1zM6 10h1v1h-1zM14 10h1v1h-1zM30 10h1v1h-1zM33 10h2v1h-2zM39 10h1v1h-1zM41 10h1v1h-1zM51 10h1v1h-1zM53 10h1v1h-1zM8 11h2v1h-2zM14 11h1v1h-1zM29 11h2v1h-2zM43 11h1v1h-1zM61 11h1v1h-1zM63 11h1v1h-1zM3 12h1v1h-1zM43 12h1v1h-1zM61 12h1v1h-1zM4 13h1v1h-1zM13 13h1v1h-1zM33 13h1v1h-1zM35 13h1v1h-1zM45 13h1v1h-1zM50 13h1v1h-1zM56 13h1v1h-1zM58 13h1v1h-1zM18 14h1v1h-1zM27 14h1v1h-1zM33 14h2v1h-2zM48 14h1v1h-1zM60 14h1v1h-1zM20 15h1v1h-1zM22 15h1v1h-1zM30 15h1v1h-1zM19 16h1v1h-1zM30 16h1v1h-1zM33 16h1v1h-1zM39 16h1v1h-1zM56 16h1v1h-1zM14 17h1v1h-1zM25 17h1v1h-1zM33 17h1v1h-1zM39 17h1v1h-1zM48 17h1v1h-1zM52 17h1v1h-1zM1 18h1v1h-1zM5 18h1v1h-1zM8 18h1v1h-1zM20 18h1v1h-1zM22 18h2v1h-2zM28 18h1v1h-1zM32 18h1v1h-1zM37 18h1v1h-1zM47 18h1v1h-1zM54 18h1v1h-1zM2 19h1v1h-1zM4 19h1v1h-1zM8 19h1v1h-1zM10 19h1v1h-1zM31 19h1v1h-1zM43 19h1v1h-1zM57 19h1v1h-1zM27 20h1v1h-1zM32 20h1v1h-1zM45 20h1v1h-1zM58 20h2v1h-2zM4 21h1v1h-1zM21 21h2v1h-2zM27 21h1v1h-1zM29 21h1v1h-1zM40 21h1v1h-1zM44 21h1v1h-1zM47 21h1v1h-1zM57 21h1v1h-1zM30 22h1v1h-1zM34 22h1v1h-1zM50 22h1v1h-1zM63 22h1v1h-1zM1 23h1v1h-1zM5 23h1v1h-1zM10 23h1v1h-1zM23 23h4v1h-4zM33 23h1v1h-1zM52 23h1v1h-1zM58 23h1v1h-1zM1 24h1v1h-1zM24 24h1v1h-1zM44 24h1v1h-1zM47 24h1v1h-1zM50 24h1v1h-1zM53 24h1v1h-1zM2 25h1v1h-1zM19 25h1v1h-1zM59 25h1v1h-1zM63 25h1v1h-1zM23 26h1v1h-1zM38 26h1v1h-1zM51 26h1v1h-1zM59 26h1v1h-1zM2 27h1v1h-1zM12 27h1v1h-1zM20 27h1v1h-1zM27 27h1v1h-1zM30 27h1v1h-1zM34 27h1v1h-1zM60 27h1v1h-1zM4 28h1v1h-1zM13 28h1v1h-1zM24 28h1v1h-1zM40 28h1v1h-1zM44 28h1v1h-1zM49 28h1v1h-1zM53 28h1v1h-1zM60 28h1v1h-1zM19 29h1v1h-1zM21 29h1v1h-1zM4 30h1v1h-1zM6 30h2v1h-2zM9 30h1v1h-1zM34 30h1v1h-1zM37 30h1v1h-1zM8 31h1v1h-1zM45 31h1v1h-1zM63 31h1v1h-1zM2 32h1v1h-1zM45 32h1v1h-1zM53 32h1v1h-1zM61 32h1v1h-1zM5 33h1v1h-1zM7 33h2v1h-2zM27 33h1v1h-1zM30 33h1v1h-1zM35 33h1v1h-1zM38 33h1v1h-1zM40 33h1v1h-1zM46 33h1v1h-1zM48 33h1v1h-1zM52 33h1v1h-1zM59 33h1v1h-1zM9 34h1v1h-1zM13 34h1v1h-1zM34 34h1v1h-1zM41 34h1v1h-1zM8 35h1v1h-1zM13 35h1v1h-1zM15 35h2v1h-2zM26 35h1v1h-1zM34 35h1v1h-1zM39 35h1v1h-1zM0 36h1v1h-1zM32 36h1v1h-1zM56 36h1v1h-1zM58 36h1v1h-1zM15 37h1v1h-1zM32 37h2v1h-2zM38 37h1v1h-1zM43 37h1v1h-1zM57 37h1v1h-1zM4 38h1v1h-1zM8 38h1v1h-1zM12 38h1v1h-1zM25 38h1v1h-1zM31 38h1v1h-1zM61 38h1v1h-1zM1 39h1v1h-1zM4 39h1v1h-1zM19 39h1v1h-1zM23 39h1v1h-1zM29 39h1v1h-1zM49 39h1v1h-1zM63 39h1v1h-1zM8 40h1v1h-1zM33 40h1v1h-1zM45 40h1v1h-1zM62 40h2v1h-2zM0 41h4v1h-4zM8 41h1v1h-1zM18 41h1v1h-1zM21 41h1v1h-1zM35 41h1v1h-1zM38 41h1v1h-1zM45 41h1v1h-1zM63 41h1v1h-1zM16 42h1v1h-1zM29 42h1v1h-1zM41 42h1v1h-1zM58 42h1v1h-1zM63 42h1v1h-1zM9 43h2v1h-2zM23 43h1v1h-1zM43 43h1v1h-1zM46 43h1v1h-1zM49 43h1v1h-1zM55 43h1v1h-1zM58 43h1v1h-1zM1 44h2v1h-2zM16 44h1v1h-1zM21 44h1v1h-1zM24 44h1v1h-1zM31 44h1v1h-1zM39 44h2v1h-2zM49 44h1v1h-1zM55 44h1v1h-1zM60 44h1v1h-1zM2 45h1v1h-1zM14 45h1v1h-1zM24 45h1v1h-1zM32 45h1v1h-1zM41 45h1v1h-1zM50 45h1v1h-1zM58 45h2v1h-2zM2 46h1v1h-1zM10 46h1v1h-1zM13 46h1v1h-1zM26 46h2v1h-2zM48 46h1v1h-1zM52 46h1v1h-1zM58 46h1v1h-1zM0 47h1v1h-1zM9 47h1v1h-1zM12 47h1v1h-1zM26 47h1v1h-1zM30 47h1v1h-1zM49 47h1v1h-1zM4 48h1v1h-1zM18 48h1v1h-1zM23 48h2v1h-2zM47 48h1v1h-1zM63 48h1v1h-1zM1 49h1v1h-1zM32 49h1v1h-1zM58 49h1v1h-1zM1 50h1v1h-1zM5 50h1v1h-1zM27 50h1v1h-1zM35 50h1v1h-1zM38 50h1v1h-1zM48 50h1v1h-1zM59 50h2v1h-2zM63 50h1v1h-1zM5 51h2v1h-2zM23 51h1v1h-1zM39 51h1v1h-1zM46 51h1v1h-1zM9 52h1v1h-1zM18 52h1v1h-1zM24 52h1v1h-1zM27 52h1v1h-1zM51 52h1v1h-1zM12 53h1v1h-1zM27 53h1v1h-1zM30 53h1v1h-1zM33 53h1v1h-1zM38 53h1v1h-1zM56 53h1v1h-1zM13 54h1v1h-1zM40 54h1v1h-1zM44 54h1v1h-1zM55 54h1v1h-1zM2 55h1v1h-1zM16 55h1v1h-1zM20 55h1v1h-1zM34 55h2v1h-2zM39 55h1v1h-1zM45 55h1v1h-1zM7 56h1v1h-1zM10 56h1v1h-1zM14 56h1v1h-1zM25 56h1v1h-1zM35 56h1v1h-1zM46 56h1v1h-1zM4 57h1v1h-1zM23 57h1v1h-1zM25 57h1v1h-1zM32 57h1v1h-1zM43 57h3v1h-3zM9 58h1v1h-1zM12 58h1v1h-1zM18 58h1v1h-1zM23 58h2v1h-2zM32 58h1v1h-1zM43 58h1v1h-1zM45 58h1v1h-1zM53 58h1v1h-1zM57 58h1v1h-1zM17 59h1v1h-1zM25 59h1v1h-1zM39 59h2v1h-2zM50 59h1v1h-1zM8 60h1v1h-1zM31 60h2v1h-2zM34 60h1v1h-1zM39 60h1v1h-1zM41 60h1v1h-1zM44 60h1v1h-1zM47 60h1v1h-1zM0 61h1v1h-1zM16 61h1v1h-1zM22 61h1v1h-1zM26 61h1v1h-1zM29 61h1v1h-1zM55 61h1v1h-1zM2 62h1v1h-1zM6 62h1v1h-1zM15 62h1v1h-1zM18 62h1v1h-1zM43 62h1v1h-1zM54 62h1v1h-1zM10 63h2v1h-2zM17 63h1v1h-1zM19 63h1v1h-1zM35 63h1v1h-1zM38 63h1v1h-1zM48 63h1v1h-1z"/><path fill="rgb(249,249,249)" d="M5 0h1v1h-1zM8 0h1v1h-1zM20 0h1v1h-1zM27 0h2v1h-2zM33 0h1v1h-1zM38 0h1v1h-1zM44 0h1v1h-1zM49 0h1v1h-1zM17 1h2v1h-2zM27 1h1v1h-1zM33 1h1v1h-1zM39 1h1v1h-1zM44 1h1v1h-1zM49 1h1v1h-1zM6 2h2v1h-2zM17 2h1v1h-1zM33 2h1v1h-1zM39 2h1v1h-1zM5 3h1v1h-1zM21 3h1v1h-1zM26 3h1v1h-1zM37 3h1v1h-1zM42 3h1v1h-1zM56 3h2v1h-2zM59 3h1v1h-1zM5 4h1v1h-1zM10 4h1v1h-1zM21 4h1v1h-1zM25 4h1v1h-1zM38 4h1v1h-1zM57 4h1v1h-1zM5 5h1v1h-1zM17 5h1v1h-1zM24 5h1v1h-1zM50 5h1v1h-1zM60 5h1v1h-1zM14 6h1v1h-1zM23 6h2v1h-2zM27 6h1v1h-1zM56 6h1v1h-1zM60 6h1v1h-1zM62 6h1v1h-1zM9 7h1v1h-1zM11 7h1v1h-1zM14 7h1v1h-1zM45 7h1v1h-1zM51 7h1v1h-1zM56 7h1v1h-1zM60 7h1v1h-1zM62 7h1v1h-1zM9 8h1v1h-1zM11 8h1v1h-1zM38 8h1v1h-1zM41 8h1v1h-1zM49 8h2v1h-2zM53 8h1v1h-1zM1 9h1v1h-1zM3 9h1v1h-1zM24 9h1v1h-1zM41 9h1v1h-1zM59 9h2v1h-2zM15 10h1v1h-1zM31 10h1v1h-1zM60 10h1v1h-1zM3 11h1v1h-1zM7 11h1v1h-1zM12 11h1v1h-1zM7 12h1v1h-1zM9 12h1v1h-1zM33 12h1v1h-1zM59 12h1v1h-1zM9 13h1v1h-1zM27 13h1v1h-1zM31 13h1v1h-1zM34 13h1v1h-1zM41 13h1v1h-1zM43 13h1v1h-1zM46 13h1v1h-1zM49 13h1v1h-1zM55 13h1v1h-1zM59 13h1v1h-1zM61 13h1v1h-1zM43 14h1v1h-1zM54 14h2v1h-2zM58 14h1v1h-1zM61 14h1v1h-1zM33 15h1v1h-1zM37 15h2v1h-2zM48 15h1v1h-1zM52 15h1v1h-1zM63 15h1v1h-1zM2 16h1v1h-1zM5 16h1v1h-1zM15 16h1v1h-1zM38 16h1v1h-1zM47 16h1v1h-1zM9 17h1v1h-1zM20 17h1v1h-1zM28 17h1v1h-1zM32 17h1v1h-1zM47 17h1v1h-1zM6 18h1v1h-1zM9 18h1v1h-1zM14 18h1v1h-1zM27 18h1v1h-1zM31 18h1v1h-1zM48 18h1v1h-1zM22 19h1v1h-1zM27 19h1v1h-1zM32 19h1v1h-1zM34 19h1v1h-1zM37 19h1v1h-1zM1 20h1v1h-1zM4 20h1v1h-1zM18 20h1v1h-1zM22 20h1v1h-1zM24 20h1v1h-1zM34 20h1v1h-1zM40 20h1v1h-1zM52 20h1v1h-1zM9 21h1v1h-1zM18 21h1v1h-1zM24 21h1v1h-1zM34 21h1v1h-1zM45 21h1v1h-1zM10 22h1v1h-1zM16 22h1v1h-1zM18 22h1v1h-1zM24 22h1v1h-1zM32 22h1v1h-1zM40 22h1v1h-1zM52 22h2v1h-2zM32 23h1v1h-1zM37 23h1v1h-1zM53 23h1v1h-1zM61 23h1v1h-1zM17 24h1v1h-1zM22 24h2v1h-2zM26 24h1v1h-1zM31 24h1v1h-1zM52 24h1v1h-1zM56 24h1v1h-1zM59 24h1v1h-1zM61 24h1v1h-1zM22 25h1v1h-1zM30 25h1v1h-1zM38 25h1v1h-1zM47 25h1v1h-1zM49 25h1v1h-1zM52 25h1v1h-1zM61 25h2v1h-2zM1 26h2v1h-2zM37 26h1v1h-1zM43 26h1v1h-1zM49 26h1v1h-1zM52 26h1v1h-1zM57 26h2v1h-2zM61 26h1v1h-1zM63 26h1v1h-1zM4 27h1v1h-1zM14 27h1v1h-1zM40 27h1v1h-1zM42 27h1v1h-1zM51 27h1v1h-1zM61 27h1v1h-1zM11 28h1v1h-1zM14 28h1v1h-1zM37 28h1v1h-1zM43 28h1v1h-1zM1 29h1v1h-1zM11 29h1v1h-1zM24 29h1v1h-1zM26 29h1v1h-1zM43 29h1v1h-1zM1 30h1v1h-1zM24 30h1v1h-1zM26 30h1v1h-1zM29 30h1v1h-1zM1 31h1v1h-1zM18 31h1v1h-1zM50 31h1v1h-1zM1 32h1v1h-1zM5 32h1v1h-1zM18 32h1v1h-1zM28 32h1v1h-1zM57 32h1v1h-1zM15 33h1v1h-1zM19 33h1v1h-1zM25 33h1v1h-1zM41 33h1v1h-1zM57 33h1v1h-1zM62 33h2v1h-2zM0 34h1v1h-1zM19 34h1v1h-1zM32 34h1v1h-1zM52 34h1v1h-1zM54 34h1v1h-1zM62 34h1v1h-1zM0 35h1v1h-1zM10 35h1v1h-1zM18 35h1v1h-1zM24 35h1v1h-1zM32 35h1v1h-1zM48 35h1v1h-1zM54 35h1v1h-1zM59 35h1v1h-1zM3 36h1v1h-1zM9 36h1v1h-1zM15 36h1v1h-1zM18 36h1v1h-1zM31 36h1v1h-1zM43 36h1v1h-1zM48 36h1v1h-1zM53 36h1v1h-1zM3 37h1v1h-1zM9 37h1v1h-1zM18 37h2v1h-2zM44 37h1v1h-1zM63 37h1v1h-1zM19 38h1v1h-1zM38 38h1v1h-1zM44 38h1v1h-1zM8 39h1v1h-1zM12 39h1v1h-1zM35 39h1v1h-1zM1 40h1v1h-1zM3 40h2v1h-2zM34 40h2v1h-2zM60 40h1v1h-1zM16 41h1v1h-1zM36 41h1v1h-1zM51 41h1v1h-1zM56 41h1v1h-1zM1 42h1v1h-1zM20 42h2v1h-2zM33 42h1v1h-1zM40 42h1v1h-1zM44 42h1v1h-1zM49 42h1v1h-1zM51 42h2v1h-2zM56 42h1v1h-1zM1 43h1v1h-1zM20 43h1v1h-1zM28 43h1v1h-1zM31 43h1v1h-1zM33 43h1v1h-1zM44 43h1v1h-1zM51 43h1v1h-1zM56 43h1v1h-1zM17 44h1v1h-1zM25 44h1v1h-1zM28 44h2v1h-2zM56 44h1v1h-1zM61 44h1v1h-1zM5 45h1v1h-1zM8 45h1v1h-1zM29 45h1v1h-1zM36 45h1v1h-1zM40 45h1v1h-1zM5 46h1v1h-1zM11 46h1v1h-1zM28 46h2v1h-2zM36 46h1v1h-1zM41 46h1v1h-1zM56 46h1v1h-1zM4 47h1v1h-1zM14 47h1v1h-1zM23 47h1v1h-1zM28 47h1v1h-1zM32 47h1v1h-1zM36 47h1v1h-1zM41 47h1v1h-1zM51 47h1v1h-1zM56 47h1v1h-1zM61 47h1v1h-1zM63 47h1v1h-1zM7 48h1v1h-1zM21 48h1v1h-1zM27 48h1v1h-1zM29 48h1v1h-1zM32 48h1v1h-1zM41 48h1v1h-1zM49 48h1v1h-1zM7 49h1v1h-1zM10 49h1v1h-1zM29 49h1v1h-1zM41 49h1v1h-1zM10 50h1v1h-1zM19 50h1v1h-1zM21 50h1v1h-1zM51 50h1v1h-1zM1 51h1v1h-1zM10 51h1v1h-1zM18 51h1v1h-1zM27 51h1v1h-1zM47 51h1v1h-1zM51 51h1v1h-1zM60 51h1v1h-1zM62 51h1v1h-1zM1 52h1v1h-1zM16 52h1v1h-1zM20 52h1v1h-1zM22 52h1v1h-1zM25 52h1v1h-1zM39 52h1v1h-1zM61 52h1v1h-1zM16 53h2v1h-2zM22 53h1v1h-1zM25 53h1v1h-1zM39 53h1v1h-1zM43 53h1v1h-1zM50 53h1v1h-1zM52 53h2v1h-2zM61 53h1v1h-1zM8 54h1v1h-1zM27 54h1v1h-1zM38 54h2v1h-2zM50 54h1v1h-1zM52 54h1v1h-1zM63 54h1v1h-1zM3 55h1v1h-1zM8 55h1v1h-1zM10 55h1v1h-1zM25 55h1v1h-1zM38 55h1v1h-1zM40 55h1v1h-1zM2 56h2v1h-2zM28 56h1v1h-1zM34 56h1v1h-1zM44 56h1v1h-1zM63 56h1v1h-1zM10 57h1v1h-1zM20 57h1v1h-1zM24 57h1v1h-1zM27 57h1v1h-1zM39 57h1v1h-1zM57 57h2v1h-2zM7 58h1v1h-1zM10 58h1v1h-1zM20 58h1v1h-1zM27 58h1v1h-1zM58 58h1v1h-1zM60 58h1v1h-1zM0 59h1v1h-1zM18 59h1v1h-1zM26 59h1v1h-1zM32 59h1v1h-1zM37 59h2v1h-2zM53 59h1v1h-1zM0 60h1v1h-1zM26 60h1v1h-1zM37 60h2v1h-2zM53 60h1v1h-1zM56 60h1v1h-1zM11 61h1v1h-1zM15 61h1v1h-1zM28 61h1v1h-1zM44 61h1v1h-1zM62 61h1v1h-1zM0 62h1v1h-1zM3 62h1v1h-1zM7 62h1v1h-1zM11 62h1v1h-1zM20 62h2v1h-2zM24 62h1v1h-1zM35 62h1v1h-1zM40 62h1v1h-1zM60 62h2v1h-2zM1 63h1v1h-1zM5 63h1v1h-1zM7 63h2v1h-2zM15 63h1v1h-1zM20 63h1v1h-1zM26 63h2v1h-2zM34 63h1v1h-1zM51 63h1v1h-1zM60 63h1v1h-1z"/></pattern>
<filter id="cm" filterUnits="userSpaceOnUse" x="0" y="0" width="1539" height="922" color-interpolation-filters="sRGB"><feGaussianBlur stdDeviation="0.4"/><feComponentTransfer result="c0"><feFuncR type="table" tableValues="0.078 0.082 0.086 0.099 0.110 0.118 0.125 0.133 0.153 0.173 0.196 0.215 0.228 0.237 0.241 0.249 0.261 0.273 0.285 0.297 0.310 0.345 0.379 0.414 0.456 0.505 0.555 0.604 0.659 0.714 0.769 0.794 0.819 0.839 0.855 0.871 0.889 0.910 0.922 0.933 0.949 0.959 0.963 0.969 0.976 0.980 0.984 0.987 0.991 0.995 1.000"/><feFuncG type="table" tableValues="0.055 0.059 0.063 0.073 0.082 0.090 0.099 0.110 0.125 0.141 0.159 0.177 0.195 0.210 0.222 0.247 0.286 0.319 0.345 0.370 0.396 0.402 0.407 0.413 0.416 0.416 0.416 0.416 0.424 0.431 0.439 0.467 0.496 0.529 0.569 0.608 0.638 0.659 0.690 0.722 0.763 0.794 0.814 0.831 0.847 0.867 0.886 0.920 0.944 0.958 0.973"/><feFuncB type="table" tableValues="0.071 0.075 0.078 0.110 0.141 0.173 0.201 0.227 0.278 0.329 0.371 0.396 0.404 0.414 0.425 0.441 0.461 0.475 0.484 0.493 0.502 0.484 0.466 0.448 0.427 0.402 0.378 0.353 0.322 0.290 0.259 0.271 0.284 0.294 0.302 0.310 0.314 0.314 0.333 0.353 0.384 0.420 0.459 0.518 0.596 0.659 0.722 0.805 0.863 0.894 0.925"/></feComponentTransfer><feGaussianBlur in="c0" stdDeviation="0.5" result="c"/><feGaussianBlur in="c" stdDeviation="2.0" result="cb"/><feColorMatrix in="c" type="matrix" values="0.299 0.587 0.114 0 0  0.299 0.587 0.114 0 0  0.299 0.587 0.114 0 0  0 0 0 0 1" result="lc"/><feColorMatrix in="cb" type="matrix" values="0.299 0.587 0.114 0 0  0.299 0.587 0.114 0 0  0.299 0.587 0.114 0 0  0 0 0 0 1" result="lcb"/><feComposite in="lc" in2="lcb" operator="arithmetic" k1="0" k2="1" k3="-1" k4="0.5" result="d"/><feComposite in="cb" in2="d" operator="arithmetic" k1="0" k2="1" k3="1" k4="-0.5"/></filter>
<filter id="bA" filterUnits="userSpaceOnUse" x="-100" y="-100" width="900" height="700" color-interpolation-filters="sRGB"><feTurbulence type="fractalNoise" baseFrequency="0.025" numOctaves="2" seed="22" result="dn0"/><feColorMatrix in="dn0" type="matrix" values="1 0 0 0 0  0 1 0 0 0  0 0 1 0 0  0 0 0 0 1" result="dn"/><feDisplacementMap in="SourceGraphic" in2="dn" scale="24" xChannelSelector="R" yChannelSelector="G" result="disp"/><feGaussianBlur in="disp" stdDeviation="8" result="s"/><feTurbulence type="fractalNoise" baseFrequency="0.05" numOctaves="2" seed="5" result="t"/><feColorMatrix in="t" type="matrix" values="1 0 0 0 0  1 0 0 0 0  1 0 0 0 0  0 0 0 0 1" result="tg"/><feComposite in="s" in2="tg" operator="arithmetic" k1="0" k2="1" k3="0.35" k4="-0.175"/></filter>
<filter id="bC2" filterUnits="userSpaceOnUse" x="-100" y="-100" width="900" height="700" color-interpolation-filters="sRGB"><feTurbulence type="fractalNoise" baseFrequency="0.025" numOctaves="2" seed="26" result="dn0"/><feColorMatrix in="dn0" type="matrix" values="1 0 0 0 0  0 1 0 0 0  0 0 1 0 0  0 0 0 0 1" result="dn"/><feDisplacementMap in="SourceGraphic" in2="dn" scale="20" xChannelSelector="R" yChannelSelector="G" result="disp"/><feGaussianBlur in="disp" stdDeviation="8" result="s"/><feTurbulence type="fractalNoise" baseFrequency="0.04" numOctaves="1" seed="9" result="t"/><feColorMatrix in="t" type="matrix" values="1 0 0 0 0  1 0 0 0 0  1 0 0 0 0  0 0 0 0 1" result="tg"/><feComposite in="s" in2="tg" operator="arithmetic" k1="0" k2="1" k3="0.5" k4="-0.25"/><feGaussianBlur stdDeviation="3"/></filter>
</defs>
<g clip-path="url(#clipA)"><g filter="url(#cm)"><g filter="url(#bA)"><rect x="-100" y="-40" width="820" height="560" fill="rgb(132,132,132)"/><rect x="-100" y="-40" width="342" height="560" fill="rgb(121,121,121)"/><line x1="575" y1="8" x2="596" y2="30" stroke="rgb(76,76,76)" stroke-width="26" stroke-linecap="round"/><line x1="596" y1="30" x2="609" y2="75" stroke="rgb(76,76,76)" stroke-width="26" stroke-linecap="round"/><line x1="609" y1="75" x2="643" y2="120" stroke="rgb(76,76,76)" stroke-width="26" stroke-linecap="round"/><line x1="643" y1="120" x2="680" y2="165" stroke="rgb(76,76,76)" stroke-width="26" stroke-linecap="round"/>
<line x1="490" y1="8" x2="515" y2="30" stroke="rgb(76,76,76)" stroke-width="28" stroke-linecap="round"/><line x1="515" y1="30" x2="535" y2="75" stroke="rgb(76,76,76)" stroke-width="28" stroke-linecap="round"/><line x1="535" y1="75" x2="576" y2="120" stroke="rgb(76,76,76)" stroke-width="28" stroke-linecap="round"/><line x1="576" y1="120" x2="619" y2="165" stroke="rgb(76,76,76)" stroke-width="28" stroke-linecap="round"/><line x1="619" y1="165" x2="630" y2="210" stroke="rgb(76,76,76)" stroke-width="28" stroke-linecap="round"/><line x1="630" y1="210" x2="640" y2="255" stroke="rgb(76,76,76)" stroke-width="28" stroke-linecap="round"/><line x1="640" y1="255" x2="645" y2="300" stroke="rgb(76,76,76)" stroke-width="27" stroke-linecap="round"/><line x1="645" y1="300" x2="650" y2="330" stroke="rgb(76,76,76)" stroke-width="23" stroke-linecap="round"/>
<line x1="253" y1="120" x2="270" y2="95" stroke="rgb(76,76,76)" stroke-width="31" stroke-linecap="round"/><line x1="270" y1="95" x2="285" y2="75" stroke="rgb(76,76,76)" stroke-width="33" stroke-linecap="round"/><line x1="285" y1="75" x2="305" y2="40" stroke="rgb(76,76,76)" stroke-width="35" stroke-linecap="round"/><line x1="305" y1="40" x2="340" y2="22" stroke="rgb(76,76,76)" stroke-width="38" stroke-linecap="round"/><line x1="340" y1="22" x2="380" y2="22" stroke="rgb(76,76,76)" stroke-width="40" stroke-linecap="round"/><line x1="380" y1="22" x2="420" y2="45" stroke="rgb(76,76,76)" stroke-width="38" stroke-linecap="round"/><line x1="420" y1="45" x2="450" y2="75" stroke="rgb(76,76,76)" stroke-width="35" stroke-linecap="round"/><line x1="450" y1="75" x2="500" y2="120" stroke="rgb(76,76,76)" stroke-width="33" stroke-linecap="round"/><line x1="500" y1="120" x2="530" y2="165" stroke="rgb(76,76,76)" stroke-width="31" stroke-linecap="round"/><line x1="530" y1="165" x2="556" y2="210" stroke="rgb(76,76,76)" stroke-width="30" stroke-linecap="round"/><line x1="556" y1="210" x2="582" y2="255" stroke="rgb(76,76,76)" stroke-width="30" stroke-linecap="round"/><line x1="582" y1="255" x2="598" y2="300" stroke="rgb(76,76,76)" stroke-width="30" stroke-linecap="round"/><line x1="598" y1="300" x2="624" y2="345" stroke="rgb(76,76,76)" stroke-width="29" stroke-linecap="round"/><line x1="624" y1="345" x2="634" y2="390" stroke="rgb(76,76,76)" stroke-width="28" stroke-linecap="round"/><line x1="634" y1="390" x2="636" y2="435" stroke="rgb(76,76,76)" stroke-width="28" stroke-linecap="round"/><line x1="636" y1="435" x2="640" y2="470" stroke="rgb(76,76,76)" stroke-width="28" stroke-linecap="round"/>
<line x1="262" y1="265" x2="275" y2="245" stroke="rgb(76,76,76)" stroke-width="31" stroke-linecap="round"/><line x1="275" y1="245" x2="290" y2="210" stroke="rgb(76,76,76)" stroke-width="34" stroke-linecap="round"/><line x1="290" y1="210" x2="300" y2="165" stroke="rgb(76,76,76)" stroke-width="40" stroke-linecap="round"/><line x1="300" y1="165" x2="335" y2="140" stroke="rgb(76,76,76)" stroke-width="49" stroke-linecap="round"/><line x1="335" y1="140" x2="380" y2="140" stroke="rgb(76,76,76)" stroke-width="54" stroke-linecap="round"/><line x1="380" y1="140" x2="420" y2="150" stroke="rgb(76,76,76)" stroke-width="52" stroke-linecap="round"/><line x1="420" y1="150" x2="445" y2="170" stroke="rgb(76,76,76)" stroke-width="46" stroke-linecap="round"/><line x1="445" y1="170" x2="478" y2="210" stroke="rgb(76,76,76)" stroke-width="39" stroke-linecap="round"/><line x1="478" y1="210" x2="500" y2="255" stroke="rgb(76,76,76)" stroke-width="34" stroke-linecap="round"/><line x1="500" y1="255" x2="525" y2="300" stroke="rgb(76,76,76)" stroke-width="31" stroke-linecap="round"/><line x1="525" y1="300" x2="555" y2="345" stroke="rgb(76,76,76)" stroke-width="29" stroke-linecap="round"/><line x1="555" y1="345" x2="572" y2="380" stroke="rgb(76,76,76)" stroke-width="26" stroke-linecap="round"/><line x1="572" y1="380" x2="580" y2="400" stroke="rgb(76,76,76)" stroke-width="20" stroke-linecap="round"/>
<line x1="250" y1="400" x2="260" y2="390" stroke="rgb(76,76,76)" stroke-width="31" stroke-linecap="round"/><line x1="260" y1="390" x2="275" y2="365" stroke="rgb(76,76,76)" stroke-width="33" stroke-linecap="round"/><line x1="275" y1="365" x2="288" y2="345" stroke="rgb(76,76,76)" stroke-width="35" stroke-linecap="round"/><line x1="288" y1="345" x2="305" y2="300" stroke="rgb(76,76,76)" stroke-width="40" stroke-linecap="round"/><line x1="305" y1="300" x2="330" y2="270" stroke="rgb(76,76,76)" stroke-width="47" stroke-linecap="round"/><line x1="330" y1="270" x2="359" y2="255" stroke="rgb(76,76,76)" stroke-width="52" stroke-linecap="round"/><line x1="359" y1="255" x2="400" y2="270" stroke="rgb(76,76,76)" stroke-width="52" stroke-linecap="round"/><line x1="400" y1="270" x2="436" y2="300" stroke="rgb(76,76,76)" stroke-width="47" stroke-linecap="round"/><line x1="436" y1="300" x2="462" y2="345" stroke="rgb(76,76,76)" stroke-width="42" stroke-linecap="round"/><line x1="462" y1="345" x2="490" y2="370" stroke="rgb(76,76,76)" stroke-width="39" stroke-linecap="round"/><line x1="490" y1="370" x2="512" y2="390" stroke="rgb(76,76,76)" stroke-width="37" stroke-linecap="round"/><line x1="512" y1="390" x2="543" y2="435" stroke="rgb(76,76,76)" stroke-width="35" stroke-linecap="round"/><line x1="543" y1="435" x2="555" y2="470" stroke="rgb(76,76,76)" stroke-width="34" stroke-linecap="round"/>
<line x1="280" y1="470" x2="295" y2="435" stroke="rgb(76,76,76)" stroke-width="34" stroke-linecap="round"/><line x1="295" y1="435" x2="320" y2="410" stroke="rgb(76,76,76)" stroke-width="40" stroke-linecap="round"/><line x1="320" y1="410" x2="356" y2="392" stroke="rgb(76,76,76)" stroke-width="47" stroke-linecap="round"/><line x1="356" y1="392" x2="390" y2="410" stroke="rgb(76,76,76)" stroke-width="49" stroke-linecap="round"/><line x1="390" y1="410" x2="419" y2="435" stroke="rgb(76,76,76)" stroke-width="46" stroke-linecap="round"/><line x1="419" y1="435" x2="440" y2="470" stroke="rgb(76,76,76)" stroke-width="42" stroke-linecap="round"/>
<line x1="630" y1="8" x2="645" y2="30" stroke="rgb(206,206,206)" stroke-width="26" stroke-linecap="round"/><line x1="645" y1="30" x2="655" y2="75" stroke="rgb(206,206,206)" stroke-width="26" stroke-linecap="round"/><line x1="655" y1="75" x2="680" y2="110" stroke="rgb(206,206,206)" stroke-width="26" stroke-linecap="round"/>
<line x1="540" y1="8" x2="557" y2="30" stroke="rgb(206,206,206)" stroke-width="28" stroke-linecap="round"/><line x1="557" y1="30" x2="580" y2="75" stroke="rgb(206,206,206)" stroke-width="28" stroke-linecap="round"/><line x1="580" y1="75" x2="614" y2="120" stroke="rgb(206,206,206)" stroke-width="28" stroke-linecap="round"/><line x1="614" y1="120" x2="656" y2="165" stroke="rgb(206,206,206)" stroke-width="28" stroke-linecap="round"/><line x1="656" y1="165" x2="662" y2="210" stroke="rgb(206,206,206)" stroke-width="28" stroke-linecap="round"/><line x1="662" y1="210" x2="668" y2="255" stroke="rgb(206,206,206)" stroke-width="28" stroke-linecap="round"/><line x1="668" y1="255" x2="672" y2="300" stroke="rgb(206,206,206)" stroke-width="28" stroke-linecap="round"/>
<line x1="250" y1="75" x2="262" y2="40" stroke="rgb(206,206,206)" stroke-width="29" stroke-linecap="round"/><line x1="262" y1="40" x2="280" y2="8" stroke="rgb(206,206,206)" stroke-width="30" stroke-linecap="round"/>
<line x1="430" y1="8" x2="456" y2="30" stroke="rgb(206,206,206)" stroke-width="30" stroke-linecap="round"/><line x1="456" y1="30" x2="500" y2="75" stroke="rgb(206,206,206)" stroke-width="30" stroke-linecap="round"/><line x1="500" y1="75" x2="540" y2="120" stroke="rgb(206,206,206)" stroke-width="30" stroke-linecap="round"/><line x1="540" y1="120" x2="573" y2="165" stroke="rgb(206,206,206)" stroke-width="30" stroke-linecap="round"/><line x1="573" y1="165" x2="593" y2="210" stroke="rgb(206,206,206)" stroke-width="30" stroke-linecap="round"/><line x1="593" y1="210" x2="612" y2="255" stroke="rgb(206,206,206)" stroke-width="30" stroke-linecap="round"/><line x1="612" y1="255" x2="622" y2="300" stroke="rgb(206,206,206)" stroke-width="29" stroke-linecap="round"/><line x1="622" y1="300" x2="652" y2="345" stroke="rgb(206,206,206)" stroke-width="29" stroke-linecap="round"/><line x1="652" y1="345" x2="662" y2="390" stroke="rgb(206,206,206)" stroke-width="30" stroke-linecap="round"/><line x1="662" y1="390" x2="664" y2="435" stroke="rgb(206,206,206)" stroke-width="30" stroke-linecap="round"/><line x1="664" y1="435" x2="668" y2="470" stroke="rgb(206,206,206)" stroke-width="30" stroke-linecap="round"/>
<line x1="258" y1="165" x2="275" y2="140" stroke="rgb(206,206,206)" stroke-width="33" stroke-linecap="round"/><line x1="275" y1="140" x2="296" y2="120" stroke="rgb(206,206,206)" stroke-width="36" stroke-linecap="round"/><line x1="296" y1="120" x2="330" y2="85" stroke="rgb(206,206,206)" stroke-width="41" stroke-linecap="round"/><line x1="330" y1="85" x2="365" y2="75" stroke="rgb(206,206,206)" stroke-width="46" stroke-linecap="round"/><line x1="365" y1="75" x2="400" y2="95" stroke="rgb(206,206,206)" stroke-width="47" stroke-linecap="round"/><line x1="400" y1="95" x2="426" y2="120" stroke="rgb(206,206,206)" stroke-width="45" stroke-linecap="round"/><line x1="426" y1="120" x2="455" y2="145" stroke="rgb(206,206,206)" stroke-width="42" stroke-linecap="round"/><line x1="455" y1="145" x2="479" y2="165" stroke="rgb(206,206,206)" stroke-width="38" stroke-linecap="round"/><line x1="479" y1="165" x2="520" y2="210" stroke="rgb(206,206,206)" stroke-width="35" stroke-linecap="round"/><line x1="520" y1="210" x2="548" y2="255" stroke="rgb(206,206,206)" stroke-width="33" stroke-linecap="round"/><line x1="548" y1="255" x2="565" y2="300" stroke="rgb(206,206,206)" stroke-width="31" stroke-linecap="round"/><line x1="565" y1="300" x2="590" y2="345" stroke="rgb(206,206,206)" stroke-width="30" stroke-linecap="round"/><line x1="590" y1="345" x2="606" y2="390" stroke="rgb(206,206,206)" stroke-width="30" stroke-linecap="round"/><line x1="606" y1="390" x2="610" y2="415" stroke="rgb(206,206,206)" stroke-width="27" stroke-linecap="round"/>
<line x1="262" y1="300" x2="277" y2="270" stroke="rgb(206,206,206)" stroke-width="35" stroke-linecap="round"/><line x1="277" y1="270" x2="292" y2="255" stroke="rgb(206,206,206)" stroke-width="38" stroke-linecap="round"/><line x1="292" y1="255" x2="310" y2="220" stroke="rgb(206,206,206)" stroke-width="43" stroke-linecap="round"/><line x1="310" y1="220" x2="350" y2="205" stroke="rgb(206,206,206)" stroke-width="51" stroke-linecap="round"/><line x1="350" y1="205" x2="400" y2="205" stroke="rgb(206,206,206)" stroke-width="56" stroke-linecap="round"/><line x1="400" y1="205" x2="440" y2="240" stroke="rgb(206,206,206)" stroke-width="51" stroke-linecap="round"/><line x1="440" y1="240" x2="465" y2="275" stroke="rgb(206,206,206)" stroke-width="43" stroke-linecap="round"/><line x1="465" y1="275" x2="490" y2="300" stroke="rgb(206,206,206)" stroke-width="38" stroke-linecap="round"/><line x1="490" y1="300" x2="516" y2="345" stroke="rgb(206,206,206)" stroke-width="35" stroke-linecap="round"/><line x1="516" y1="345" x2="563" y2="390" stroke="rgb(206,206,206)" stroke-width="34" stroke-linecap="round"/><line x1="563" y1="390" x2="590" y2="435" stroke="rgb(206,206,206)" stroke-width="35" stroke-linecap="round"/><line x1="590" y1="435" x2="600" y2="470" stroke="rgb(206,206,206)" stroke-width="36" stroke-linecap="round"/>
<line x1="262" y1="440" x2="280" y2="420" stroke="rgb(206,206,206)" stroke-width="31" stroke-linecap="round"/><line x1="280" y1="420" x2="300" y2="390" stroke="rgb(206,206,206)" stroke-width="34" stroke-linecap="round"/><line x1="300" y1="390" x2="320" y2="360" stroke="rgb(206,206,206)" stroke-width="40" stroke-linecap="round"/><line x1="320" y1="360" x2="370" y2="340" stroke="rgb(206,206,206)" stroke-width="47" stroke-linecap="round"/><line x1="370" y1="340" x2="410" y2="355" stroke="rgb(206,206,206)" stroke-width="50" stroke-linecap="round"/><line x1="410" y1="355" x2="442" y2="390" stroke="rgb(206,206,206)" stroke-width="47" stroke-linecap="round"/><line x1="442" y1="390" x2="472" y2="415" stroke="rgb(206,206,206)" stroke-width="42" stroke-linecap="round"/><line x1="472" y1="415" x2="496" y2="435" stroke="rgb(206,206,206)" stroke-width="39" stroke-linecap="round"/><line x1="496" y1="435" x2="512" y2="470" stroke="rgb(206,206,206)" stroke-width="37" stroke-linecap="round"/>
<line x1="320" y1="470" x2="357" y2="440" stroke="rgb(206,206,206)" stroke-width="38" stroke-linecap="round"/><line x1="357" y1="440" x2="390" y2="470" stroke="rgb(206,206,206)" stroke-width="40" stroke-linecap="round"/></g><g transform="translate(40 8) scale(4.5)"><rect x="0" y="0" width="141" height="103" fill="url(#nz)" opacity="0.3"/></g></g></g><line x1="238.4" y1="6.6" x2="238.4" y2="467" stroke="#d8321e" stroke-width="6.5" stroke-dasharray="17 24.8"/><line x1="67.3" y1="208.8" x2="202.2" y2="208.8" stroke="#fff" stroke-width="4.6" stroke-dasharray="13 12"/><rect x="141" y="118" width="13" height="3.5" fill="#120c0c"/><rect x="107.6" y="327.9" width="4.4" height="4.2" fill="#120c0c"/><rect x="136.8" y="447.4" width="8.2" height="4.2" fill="#120c0c"/><text x="538.6" y="86.2" font-size="29.5" style="fill:#fff">[<tspan style="font-family:NanumGothic,sans-serif;stroke:#fff;stroke-width:0.75">1</tspan>00]</text><rect x="618.8" y="52" width="4.4" height="63" fill="#fff"/><path d="M621 36.7 L628.8 56 L621 51.5 L613.2 56Z" fill="#fff"/><text x="552.6" y="405.3" font-size="28.5" style="fill:#fff">2 µm</text><rect x="552.8" y="417" width="65.7" height="12.6" fill="#fff"/><rect x="38" y="6" width="635.5" height="462.5" fill="none" stroke="#1c1512" stroke-width="4"/><rect x="697.45" y="172.35" width="26.10" height="144.90" fill="url(#cbar)" stroke="#0f0d0c" stroke-width="2.5"/><text x="713.4" y="160.7" font-size="25" text-anchor="middle">Max</text><text x="712.4" y="345.6" font-size="25" text-anchor="middle">Min</text><text x="728.6" y="247.4" font-size="28" font-style="italic">S</text><text x="746.4" y="255.4" font-size="16.6">2</text><text x="-1" y="24.5" font-size="33" font-weight="bold">a</text>
<line x1="894" y1="9" x2="894" y2="420" stroke="#c9c9c9" stroke-width="3.6" stroke-dasharray="12.5 12.35"/><line x1="977" y1="9" x2="977" y2="420" stroke="#c9c9c9" stroke-width="3.6" stroke-dasharray="12.5 12.35"/><line x1="1056.6" y1="9" x2="1056.6" y2="420" stroke="#c9c9c9" stroke-width="3.6" stroke-dasharray="12.5 12.35"/><line x1="1136" y1="9" x2="1136" y2="420" stroke="#c9c9c9" stroke-width="3.6" stroke-dasharray="12.5 12.35"/><line x1="1212.3" y1="9" x2="1212.3" y2="420" stroke="#c9c9c9" stroke-width="3.6" stroke-dasharray="12.5 12.35"/><line x1="1291.5" y1="9" x2="1291.5" y2="420" stroke="#c9c9c9" stroke-width="3.6" stroke-dasharray="12.5 12.35"/><line x1="1374.5" y1="9" x2="1374.5" y2="420" stroke="#c9c9c9" stroke-width="3.6" stroke-dasharray="12.5 12.35"/><line x1="1457.7" y1="9" x2="1457.7" y2="420" stroke="#c9c9c9" stroke-width="3.6" stroke-dasharray="12.5 12.35"/><polyline points="818.4,146.3 836.6,183.4 857.0,211.9 876.0,197.0 895.5,175.8 916.0,199.7 935.6,249.9 956.0,210.0 976.3,198.3 994.7,200.5 1034.6,264.0 1054.4,200.5 1074.5,216.8 1093.7,288.6 1114.0,229.5 1133.0,133.8 1153.0,149.0 1173.0,198.3 1212.3,93.9 1231.3,118.3 1251.7,146.2 1270.6,138.0 1291.5,112.0 1311.3,174.4 1330.3,162.5 1350.6,123.7 1370.1,125.6 1389.9,133.2 1409.7,166.3 1429.2,153.5 1449.0,120.2 1469.3,109.6 1488.8,169.2 1508.4,161.7 1528.2,162.2 1535.0,167.0" fill="none" stroke="#0f0d0c" stroke-width="3.8" stroke-linejoin="round"/><line x1="817.7" y1="40.9" x2="828.6" y2="40.9" stroke="#0f0d0c" stroke-width="3.9"/><line x1="817.7" y1="110.3" x2="828.6" y2="110.3" stroke="#0f0d0c" stroke-width="3.9"/><line x1="817.7" y1="179.8" x2="828.6" y2="179.8" stroke="#0f0d0c" stroke-width="3.9"/><line x1="817.7" y1="249.3" x2="828.6" y2="249.3" stroke="#0f0d0c" stroke-width="3.9"/><line x1="817.7" y1="318.8" x2="828.6" y2="318.8" stroke="#0f0d0c" stroke-width="3.9"/><line x1="817.7" y1="388.3" x2="828.6" y2="388.3" stroke="#0f0d0c" stroke-width="3.9"/><line x1="817.7" y1="75.6" x2="823" y2="75.6" stroke="#0f0d0c" stroke-width="3.9"/><line x1="817.7" y1="145" x2="823" y2="145" stroke="#0f0d0c" stroke-width="3.9"/><line x1="817.7" y1="214.5" x2="823" y2="214.5" stroke="#0f0d0c" stroke-width="3.9"/><line x1="817.7" y1="284" x2="823" y2="284" stroke="#0f0d0c" stroke-width="3.9"/><line x1="817.7" y1="353.5" x2="823" y2="353.5" stroke="#0f0d0c" stroke-width="3.9"/><line x1="1105.2" y1="423.2" x2="1105.2" y2="412.3" stroke="#0f0d0c" stroke-width="3.9"/><line x1="1392.6" y1="423.2" x2="1392.6" y2="412.3" stroke="#0f0d0c" stroke-width="3.9"/><line x1="961.6" y1="423.2" x2="961.6" y2="417.8" stroke="#0f0d0c" stroke-width="3.9"/><line x1="1248.9" y1="423.2" x2="1248.9" y2="417.8" stroke="#0f0d0c" stroke-width="3.9"/><rect x="817.7" y="6.1" width="718.7" height="417.09999999999997" fill="none" stroke="#0f0d0c" stroke-width="4.2"/><text x="818.2" y="452.6" font-size="28.5" text-anchor="middle">0</text><text x="1106.5" y="452.6" font-size="28.5" text-anchor="middle">2</text><text x="1392.7" y="452.6" font-size="28.5" text-anchor="middle">4</text><text x="1136" y="472" font-size="28.5"><tspan font-style="italic">x</tspan> (µm)</text><text transform="translate(791.4 261.6) rotate(-90)" font-size="29"><tspan font-style="italic">S</tspan><tspan font-size="18" dy="5">2</tspan><tspan dy="-5" dx="3" font-size="30.5">(a.u.)</tspan></text><text x="1283.5" y="317" font-size="29.7">540 nm</text><line x1="1302.6" y1="342.8" x2="1364.7" y2="342.8" stroke="#231815" stroke-width="3.4"/><path d="M1291.8 342.8 L1309.8 335.3 L1305.3 342.8 L1309.8 350.3Z" fill="#231815"/><path d="M1375.5 342.8 L1357.5 335.3 L1362.0 342.8 L1357.5 350.3Z" fill="#231815"/><text x="767" y="24.5" font-size="33" font-weight="bold">b</text>
<g clip-path="url(#clipC1)"><g filter="url(#cm)"><g transform="translate(40,490) scale(0.8689,0.8759) translate(-258,-8)"><g filter="url(#bA)"><rect x="-100" y="-40" width="820" height="560" fill="rgb(132,132,132)"/><rect x="-100" y="-40" width="342" height="560" fill="rgb(121,121,121)"/><line x1="575" y1="8" x2="596" y2="30" stroke="rgb(51,51,51)" stroke-width="26" stroke-linecap="round"/><line x1="596" y1="30" x2="609" y2="75" stroke="rgb(51,51,51)" stroke-width="26" stroke-linecap="round"/><line x1="609" y1="75" x2="643" y2="120" stroke="rgb(51,51,51)" stroke-width="26" stroke-linecap="round"/><line x1="643" y1="120" x2="680" y2="165" stroke="rgb(51,51,51)" stroke-width="26" stroke-linecap="round"/>
<line x1="490" y1="8" x2="515" y2="30" stroke="rgb(51,51,51)" stroke-width="28" stroke-linecap="round"/><line x1="515" y1="30" x2="535" y2="75" stroke="rgb(51,51,51)" stroke-width="28" stroke-linecap="round"/><line x1="535" y1="75" x2="576" y2="120" stroke="rgb(51,51,51)" stroke-width="28" stroke-linecap="round"/><line x1="576" y1="120" x2="619" y2="165" stroke="rgb(51,51,51)" stroke-width="28" stroke-linecap="round"/><line x1="619" y1="165" x2="630" y2="210" stroke="rgb(51,51,51)" stroke-width="28" stroke-linecap="round"/><line x1="630" y1="210" x2="640" y2="255" stroke="rgb(51,51,51)" stroke-width="28" stroke-linecap="round"/><line x1="640" y1="255" x2="645" y2="300" stroke="rgb(51,51,51)" stroke-width="27" stroke-linecap="round"/><line x1="645" y1="300" x2="650" y2="330" stroke="rgb(51,51,51)" stroke-width="23" stroke-linecap="round"/>
<line x1="253" y1="120" x2="270" y2="95" stroke="rgb(51,51,51)" stroke-width="31" stroke-linecap="round"/><line x1="270" y1="95" x2="285" y2="75" stroke="rgb(51,51,51)" stroke-width="33" stroke-linecap="round"/><line x1="285" y1="75" x2="305" y2="40" stroke="rgb(51,51,51)" stroke-width="35" stroke-linecap="round"/><line x1="305" y1="40" x2="340" y2="22" stroke="rgb(51,51,51)" stroke-width="38" stroke-linecap="round"/><line x1="340" y1="22" x2="380" y2="22" stroke="rgb(51,51,51)" stroke-width="40" stroke-linecap="round"/><line x1="380" y1="22" x2="420" y2="45" stroke="rgb(51,51,51)" stroke-width="38" stroke-linecap="round"/><line x1="420" y1="45" x2="450" y2="75" stroke="rgb(51,51,51)" stroke-width="35" stroke-linecap="round"/><line x1="450" y1="75" x2="500" y2="120" stroke="rgb(51,51,51)" stroke-width="33" stroke-linecap="round"/><line x1="500" y1="120" x2="530" y2="165" stroke="rgb(51,51,51)" stroke-width="31" stroke-linecap="round"/><line x1="530" y1="165" x2="556" y2="210" stroke="rgb(51,51,51)" stroke-width="30" stroke-linecap="round"/><line x1="556" y1="210" x2="582" y2="255" stroke="rgb(51,51,51)" stroke-width="30" stroke-linecap="round"/><line x1="582" y1="255" x2="598" y2="300" stroke="rgb(51,51,51)" stroke-width="30" stroke-linecap="round"/><line x1="598" y1="300" x2="624" y2="345" stroke="rgb(51,51,51)" stroke-width="29" stroke-linecap="round"/><line x1="624" y1="345" x2="634" y2="390" stroke="rgb(51,51,51)" stroke-width="28" stroke-linecap="round"/><line x1="634" y1="390" x2="636" y2="435" stroke="rgb(51,51,51)" stroke-width="28" stroke-linecap="round"/><line x1="636" y1="435" x2="640" y2="470" stroke="rgb(51,51,51)" stroke-width="28" stroke-linecap="round"/>
<line x1="262" y1="265" x2="275" y2="245" stroke="rgb(51,51,51)" stroke-width="31" stroke-linecap="round"/><line x1="275" y1="245" x2="290" y2="210" stroke="rgb(51,51,51)" stroke-width="34" stroke-linecap="round"/><line x1="290" y1="210" x2="300" y2="165" stroke="rgb(51,51,51)" stroke-width="40" stroke-linecap="round"/><line x1="300" y1="165" x2="335" y2="140" stroke="rgb(51,51,51)" stroke-width="49" stroke-linecap="round"/><line x1="335" y1="140" x2="380" y2="140" stroke="rgb(51,51,51)" stroke-width="54" stroke-linecap="round"/><line x1="380" y1="140" x2="420" y2="150" stroke="rgb(51,51,51)" stroke-width="52" stroke-linecap="round"/><line x1="420" y1="150" x2="445" y2="170" stroke="rgb(51,51,51)" stroke-width="46" stroke-linecap="round"/><line x1="445" y1="170" x2="478" y2="210" stroke="rgb(51,51,51)" stroke-width="39" stroke-linecap="round"/><line x1="478" y1="210" x2="500" y2="255" stroke="rgb(51,51,51)" stroke-width="34" stroke-linecap="round"/><line x1="500" y1="255" x2="525" y2="300" stroke="rgb(51,51,51)" stroke-width="31" stroke-linecap="round"/><line x1="525" y1="300" x2="555" y2="345" stroke="rgb(51,51,51)" stroke-width="29" stroke-linecap="round"/><line x1="555" y1="345" x2="572" y2="380" stroke="rgb(51,51,51)" stroke-width="26" stroke-linecap="round"/><line x1="572" y1="380" x2="580" y2="400" stroke="rgb(51,51,51)" stroke-width="20" stroke-linecap="round"/>
<line x1="250" y1="400" x2="260" y2="390" stroke="rgb(51,51,51)" stroke-width="31" stroke-linecap="round"/><line x1="260" y1="390" x2="275" y2="365" stroke="rgb(51,51,51)" stroke-width="33" stroke-linecap="round"/><line x1="275" y1="365" x2="288" y2="345" stroke="rgb(51,51,51)" stroke-width="35" stroke-linecap="round"/><line x1="288" y1="345" x2="305" y2="300" stroke="rgb(51,51,51)" stroke-width="40" stroke-linecap="round"/><line x1="305" y1="300" x2="330" y2="270" stroke="rgb(51,51,51)" stroke-width="47" stroke-linecap="round"/><line x1="330" y1="270" x2="359" y2="255" stroke="rgb(51,51,51)" stroke-width="52" stroke-linecap="round"/><line x1="359" y1="255" x2="400" y2="270" stroke="rgb(51,51,51)" stroke-width="52" stroke-linecap="round"/><line x1="400" y1="270" x2="436" y2="300" stroke="rgb(51,51,51)" stroke-width="47" stroke-linecap="round"/><line x1="436" y1="300" x2="462" y2="345" stroke="rgb(51,51,51)" stroke-width="42" stroke-linecap="round"/><line x1="462" y1="345" x2="490" y2="370" stroke="rgb(51,51,51)" stroke-width="39" stroke-linecap="round"/><line x1="490" y1="370" x2="512" y2="390" stroke="rgb(51,51,51)" stroke-width="37" stroke-linecap="round"/><line x1="512" y1="390" x2="543" y2="435" stroke="rgb(51,51,51)" stroke-width="35" stroke-linecap="round"/><line x1="543" y1="435" x2="555" y2="470" stroke="rgb(51,51,51)" stroke-width="34" stroke-linecap="round"/>
<line x1="280" y1="470" x2="295" y2="435" stroke="rgb(51,51,51)" stroke-width="34" stroke-linecap="round"/><line x1="295" y1="435" x2="320" y2="410" stroke="rgb(51,51,51)" stroke-width="40" stroke-linecap="round"/><line x1="320" y1="410" x2="356" y2="392" stroke="rgb(51,51,51)" stroke-width="47" stroke-linecap="round"/><line x1="356" y1="392" x2="390" y2="410" stroke="rgb(51,51,51)" stroke-width="49" stroke-linecap="round"/><line x1="390" y1="410" x2="419" y2="435" stroke="rgb(51,51,51)" stroke-width="46" stroke-linecap="round"/><line x1="419" y1="435" x2="440" y2="470" stroke="rgb(51,51,51)" stroke-width="42" stroke-linecap="round"/>
<line x1="630" y1="8" x2="645" y2="30" stroke="rgb(219,219,219)" stroke-width="26" stroke-linecap="round"/><line x1="645" y1="30" x2="655" y2="75" stroke="rgb(219,219,219)" stroke-width="26" stroke-linecap="round"/><line x1="655" y1="75" x2="680" y2="110" stroke="rgb(219,219,219)" stroke-width="26" stroke-linecap="round"/>
<line x1="540" y1="8" x2="557" y2="30" stroke="rgb(219,219,219)" stroke-width="28" stroke-linecap="round"/><line x1="557" y1="30" x2="580" y2="75" stroke="rgb(219,219,219)" stroke-width="28" stroke-linecap="round"/><line x1="580" y1="75" x2="614" y2="120" stroke="rgb(219,219,219)" stroke-width="28" stroke-linecap="round"/><line x1="614" y1="120" x2="656" y2="165" stroke="rgb(219,219,219)" stroke-width="28" stroke-linecap="round"/><line x1="656" y1="165" x2="662" y2="210" stroke="rgb(219,219,219)" stroke-width="28" stroke-linecap="round"/><line x1="662" y1="210" x2="668" y2="255" stroke="rgb(219,219,219)" stroke-width="28" stroke-linecap="round"/><line x1="668" y1="255" x2="672" y2="300" stroke="rgb(219,219,219)" stroke-width="28" stroke-linecap="round"/>
<line x1="250" y1="75" x2="262" y2="40" stroke="rgb(219,219,219)" stroke-width="29" stroke-linecap="round"/><line x1="262" y1="40" x2="280" y2="8" stroke="rgb(219,219,219)" stroke-width="30" stroke-linecap="round"/>
<line x1="430" y1="8" x2="456" y2="30" stroke="rgb(219,219,219)" stroke-width="30" stroke-linecap="round"/><line x1="456" y1="30" x2="500" y2="75" stroke="rgb(219,219,219)" stroke-width="30" stroke-linecap="round"/><line x1="500" y1="75" x2="540" y2="120" stroke="rgb(219,219,219)" stroke-width="30" stroke-linecap="round"/><line x1="540" y1="120" x2="573" y2="165" stroke="rgb(219,219,219)" stroke-width="30" stroke-linecap="round"/><line x1="573" y1="165" x2="593" y2="210" stroke="rgb(219,219,219)" stroke-width="30" stroke-linecap="round"/><line x1="593" y1="210" x2="612" y2="255" stroke="rgb(219,219,219)" stroke-width="30" stroke-linecap="round"/><line x1="612" y1="255" x2="622" y2="300" stroke="rgb(219,219,219)" stroke-width="29" stroke-linecap="round"/><line x1="622" y1="300" x2="652" y2="345" stroke="rgb(219,219,219)" stroke-width="29" stroke-linecap="round"/><line x1="652" y1="345" x2="662" y2="390" stroke="rgb(219,219,219)" stroke-width="30" stroke-linecap="round"/><line x1="662" y1="390" x2="664" y2="435" stroke="rgb(219,219,219)" stroke-width="30" stroke-linecap="round"/><line x1="664" y1="435" x2="668" y2="470" stroke="rgb(219,219,219)" stroke-width="30" stroke-linecap="round"/>
<line x1="258" y1="165" x2="275" y2="140" stroke="rgb(219,219,219)" stroke-width="33" stroke-linecap="round"/><line x1="275" y1="140" x2="296" y2="120" stroke="rgb(219,219,219)" stroke-width="36" stroke-linecap="round"/><line x1="296" y1="120" x2="330" y2="85" stroke="rgb(219,219,219)" stroke-width="41" stroke-linecap="round"/><line x1="330" y1="85" x2="365" y2="75" stroke="rgb(219,219,219)" stroke-width="46" stroke-linecap="round"/><line x1="365" y1="75" x2="400" y2="95" stroke="rgb(219,219,219)" stroke-width="47" stroke-linecap="round"/><line x1="400" y1="95" x2="426" y2="120" stroke="rgb(219,219,219)" stroke-width="45" stroke-linecap="round"/><line x1="426" y1="120" x2="455" y2="145" stroke="rgb(219,219,219)" stroke-width="42" stroke-linecap="round"/><line x1="455" y1="145" x2="479" y2="165" stroke="rgb(219,219,219)" stroke-width="38" stroke-linecap="round"/><line x1="479" y1="165" x2="520" y2="210" stroke="rgb(219,219,219)" stroke-width="35" stroke-linecap="round"/><line x1="520" y1="210" x2="548" y2="255" stroke="rgb(219,219,219)" stroke-width="33" stroke-linecap="round"/><line x1="548" y1="255" x2="565" y2="300" stroke="rgb(219,219,219)" stroke-width="31" stroke-linecap="round"/><line x1="565" y1="300" x2="590" y2="345" stroke="rgb(219,219,219)" stroke-width="30" stroke-linecap="round"/><line x1="590" y1="345" x2="606" y2="390" stroke="rgb(219,219,219)" stroke-width="30" stroke-linecap="round"/><line x1="606" y1="390" x2="610" y2="415" stroke="rgb(219,219,219)" stroke-width="27" stroke-linecap="round"/>
<line x1="262" y1="300" x2="277" y2="270" stroke="rgb(219,219,219)" stroke-width="35" stroke-linecap="round"/><line x1="277" y1="270" x2="292" y2="255" stroke="rgb(219,219,219)" stroke-width="38" stroke-linecap="round"/><line x1="292" y1="255" x2="310" y2="220" stroke="rgb(219,219,219)" stroke-width="43" stroke-linecap="round"/><line x1="310" y1="220" x2="350" y2="205" stroke="rgb(219,219,219)" stroke-width="51" stroke-linecap="round"/><line x1="350" y1="205" x2="400" y2="205" stroke="rgb(219,219,219)" stroke-width="56" stroke-linecap="round"/><line x1="400" y1="205" x2="440" y2="240" stroke="rgb(219,219,219)" stroke-width="51" stroke-linecap="round"/><line x1="440" y1="240" x2="465" y2="275" stroke="rgb(219,219,219)" stroke-width="43" stroke-linecap="round"/><line x1="465" y1="275" x2="490" y2="300" stroke="rgb(219,219,219)" stroke-width="38" stroke-linecap="round"/><line x1="490" y1="300" x2="516" y2="345" stroke="rgb(219,219,219)" stroke-width="35" stroke-linecap="round"/><line x1="516" y1="345" x2="563" y2="390" stroke="rgb(219,219,219)" stroke-width="34" stroke-linecap="round"/><line x1="563" y1="390" x2="590" y2="435" stroke="rgb(219,219,219)" stroke-width="35" stroke-linecap="round"/><line x1="590" y1="435" x2="600" y2="470" stroke="rgb(219,219,219)" stroke-width="36" stroke-linecap="round"/>
<line x1="262" y1="440" x2="280" y2="420" stroke="rgb(219,219,219)" stroke-width="31" stroke-linecap="round"/><line x1="280" y1="420" x2="300" y2="390" stroke="rgb(219,219,219)" stroke-width="34" stroke-linecap="round"/><line x1="300" y1="390" x2="320" y2="360" stroke="rgb(219,219,219)" stroke-width="40" stroke-linecap="round"/><line x1="320" y1="360" x2="370" y2="340" stroke="rgb(219,219,219)" stroke-width="47" stroke-linecap="round"/><line x1="370" y1="340" x2="410" y2="355" stroke="rgb(219,219,219)" stroke-width="50" stroke-linecap="round"/><line x1="410" y1="355" x2="442" y2="390" stroke="rgb(219,219,219)" stroke-width="47" stroke-linecap="round"/><line x1="442" y1="390" x2="472" y2="415" stroke="rgb(219,219,219)" stroke-width="42" stroke-linecap="round"/><line x1="472" y1="415" x2="496" y2="435" stroke="rgb(219,219,219)" stroke-width="39" stroke-linecap="round"/><line x1="496" y1="435" x2="512" y2="470" stroke="rgb(219,219,219)" stroke-width="37" stroke-linecap="round"/>
<line x1="320" y1="470" x2="357" y2="440" stroke="rgb(219,219,219)" stroke-width="38" stroke-linecap="round"/><line x1="357" y1="440" x2="390" y2="470" stroke="rgb(219,219,219)" stroke-width="40" stroke-linecap="round"/></g></g><g transform="translate(40 490) scale(3.93)"><rect x="0" y="0" width="92" height="103" fill="url(#nz)" opacity="0.3"/></g></g></g><text x="290.6" y="831.4" font-size="30" style="fill:#fff">2 µm</text><rect x="297.1" y="850" width="54.9" height="12" fill="#fff"/><rect x="38" y="488.2" width="363.3" height="405.4" fill="none" stroke="#1c1512" stroke-width="4"/><g clip-path="url(#clipC2)"><g filter="url(#cm)"><g transform="translate(561,491) scale(0.8718,0.8746) translate(-258,-8)"><g filter="url(#bC2)"><rect x="-100" y="-40" width="820" height="560" fill="rgb(135,135,135)"/><line x1="575" y1="8" x2="596" y2="30" stroke="rgb(84,84,84)" stroke-width="26" stroke-linecap="round"/><line x1="596" y1="30" x2="609" y2="75" stroke="rgb(84,84,84)" stroke-width="26" stroke-linecap="round"/><line x1="609" y1="75" x2="643" y2="120" stroke="rgb(84,84,84)" stroke-width="26" stroke-linecap="round"/><line x1="643" y1="120" x2="680" y2="165" stroke="rgb(84,84,84)" stroke-width="26" stroke-linecap="round"/>
<line x1="490" y1="8" x2="515" y2="30" stroke="rgb(84,84,84)" stroke-width="28" stroke-linecap="round"/><line x1="515" y1="30" x2="535" y2="75" stroke="rgb(84,84,84)" stroke-width="28" stroke-linecap="round"/><line x1="535" y1="75" x2="576" y2="120" stroke="rgb(84,84,84)" stroke-width="28" stroke-linecap="round"/><line x1="576" y1="120" x2="619" y2="165" stroke="rgb(84,84,84)" stroke-width="28" stroke-linecap="round"/><line x1="619" y1="165" x2="630" y2="210" stroke="rgb(84,84,84)" stroke-width="28" stroke-linecap="round"/><line x1="630" y1="210" x2="640" y2="255" stroke="rgb(84,84,84)" stroke-width="28" stroke-linecap="round"/><line x1="640" y1="255" x2="645" y2="300" stroke="rgb(84,84,84)" stroke-width="27" stroke-linecap="round"/><line x1="645" y1="300" x2="650" y2="330" stroke="rgb(84,84,84)" stroke-width="23" stroke-linecap="round"/>
<line x1="253" y1="120" x2="270" y2="95" stroke="rgb(84,84,84)" stroke-width="31" stroke-linecap="round"/><line x1="270" y1="95" x2="285" y2="75" stroke="rgb(84,84,84)" stroke-width="33" stroke-linecap="round"/><line x1="285" y1="75" x2="305" y2="40" stroke="rgb(84,84,84)" stroke-width="35" stroke-linecap="round"/><line x1="305" y1="40" x2="340" y2="22" stroke="rgb(84,84,84)" stroke-width="38" stroke-linecap="round"/><line x1="340" y1="22" x2="380" y2="22" stroke="rgb(84,84,84)" stroke-width="40" stroke-linecap="round"/><line x1="380" y1="22" x2="420" y2="45" stroke="rgb(84,84,84)" stroke-width="38" stroke-linecap="round"/><line x1="420" y1="45" x2="450" y2="75" stroke="rgb(84,84,84)" stroke-width="35" stroke-linecap="round"/><line x1="450" y1="75" x2="500" y2="120" stroke="rgb(84,84,84)" stroke-width="33" stroke-linecap="round"/><line x1="500" y1="120" x2="530" y2="165" stroke="rgb(84,84,84)" stroke-width="31" stroke-linecap="round"/><line x1="530" y1="165" x2="556" y2="210" stroke="rgb(84,84,84)" stroke-width="30" stroke-linecap="round"/><line x1="556" y1="210" x2="582" y2="255" stroke="rgb(84,84,84)" stroke-width="30" stroke-linecap="round"/><line x1="582" y1="255" x2="598" y2="300" stroke="rgb(84,84,84)" stroke-width="30" stroke-linecap="round"/><line x1="598" y1="300" x2="624" y2="345" stroke="rgb(84,84,84)" stroke-width="29" stroke-linecap="round"/><line x1="624" y1="345" x2="634" y2="390" stroke="rgb(84,84,84)" stroke-width="28" stroke-linecap="round"/><line x1="634" y1="390" x2="636" y2="435" stroke="rgb(84,84,84)" stroke-width="28" stroke-linecap="round"/><line x1="636" y1="435" x2="640" y2="470" stroke="rgb(84,84,84)" stroke-width="28" stroke-linecap="round"/>
<line x1="262" y1="265" x2="275" y2="245" stroke="rgb(84,84,84)" stroke-width="31" stroke-linecap="round"/><line x1="275" y1="245" x2="290" y2="210" stroke="rgb(84,84,84)" stroke-width="34" stroke-linecap="round"/><line x1="290" y1="210" x2="300" y2="165" stroke="rgb(84,84,84)" stroke-width="40" stroke-linecap="round"/><line x1="300" y1="165" x2="335" y2="140" stroke="rgb(84,84,84)" stroke-width="49" stroke-linecap="round"/><line x1="335" y1="140" x2="380" y2="140" stroke="rgb(84,84,84)" stroke-width="54" stroke-linecap="round"/><line x1="380" y1="140" x2="420" y2="150" stroke="rgb(84,84,84)" stroke-width="52" stroke-linecap="round"/><line x1="420" y1="150" x2="445" y2="170" stroke="rgb(84,84,84)" stroke-width="46" stroke-linecap="round"/><line x1="445" y1="170" x2="478" y2="210" stroke="rgb(84,84,84)" stroke-width="39" stroke-linecap="round"/><line x1="478" y1="210" x2="500" y2="255" stroke="rgb(84,84,84)" stroke-width="34" stroke-linecap="round"/><line x1="500" y1="255" x2="525" y2="300" stroke="rgb(84,84,84)" stroke-width="31" stroke-linecap="round"/><line x1="525" y1="300" x2="555" y2="345" stroke="rgb(84,84,84)" stroke-width="29" stroke-linecap="round"/><line x1="555" y1="345" x2="572" y2="380" stroke="rgb(84,84,84)" stroke-width="26" stroke-linecap="round"/><line x1="572" y1="380" x2="580" y2="400" stroke="rgb(84,84,84)" stroke-width="20" stroke-linecap="round"/>
<line x1="250" y1="400" x2="260" y2="390" stroke="rgb(84,84,84)" stroke-width="31" stroke-linecap="round"/><line x1="260" y1="390" x2="275" y2="365" stroke="rgb(84,84,84)" stroke-width="33" stroke-linecap="round"/><line x1="275" y1="365" x2="288" y2="345" stroke="rgb(84,84,84)" stroke-width="35" stroke-linecap="round"/><line x1="288" y1="345" x2="305" y2="300" stroke="rgb(84,84,84)" stroke-width="40" stroke-linecap="round"/><line x1="305" y1="300" x2="330" y2="270" stroke="rgb(84,84,84)" stroke-width="47" stroke-linecap="round"/><line x1="330" y1="270" x2="359" y2="255" stroke="rgb(84,84,84)" stroke-width="52" stroke-linecap="round"/><line x1="359" y1="255" x2="400" y2="270" stroke="rgb(84,84,84)" stroke-width="52" stroke-linecap="round"/><line x1="400" y1="270" x2="436" y2="300" stroke="rgb(84,84,84)" stroke-width="47" stroke-linecap="round"/><line x1="436" y1="300" x2="462" y2="345" stroke="rgb(84,84,84)" stroke-width="42" stroke-linecap="round"/><line x1="462" y1="345" x2="490" y2="370" stroke="rgb(84,84,84)" stroke-width="39" stroke-linecap="round"/><line x1="490" y1="370" x2="512" y2="390" stroke="rgb(84,84,84)" stroke-width="37" stroke-linecap="round"/><line x1="512" y1="390" x2="543" y2="435" stroke="rgb(84,84,84)" stroke-width="35" stroke-linecap="round"/><line x1="543" y1="435" x2="555" y2="470" stroke="rgb(84,84,84)" stroke-width="34" stroke-linecap="round"/>
<line x1="280" y1="470" x2="295" y2="435" stroke="rgb(84,84,84)" stroke-width="34" stroke-linecap="round"/><line x1="295" y1="435" x2="320" y2="410" stroke="rgb(84,84,84)" stroke-width="40" stroke-linecap="round"/><line x1="320" y1="410" x2="356" y2="392" stroke="rgb(84,84,84)" stroke-width="47" stroke-linecap="round"/><line x1="356" y1="392" x2="390" y2="410" stroke="rgb(84,84,84)" stroke-width="49" stroke-linecap="round"/><line x1="390" y1="410" x2="419" y2="435" stroke="rgb(84,84,84)" stroke-width="46" stroke-linecap="round"/><line x1="419" y1="435" x2="440" y2="470" stroke="rgb(84,84,84)" stroke-width="42" stroke-linecap="round"/>
<line x1="630" y1="8" x2="645" y2="30" stroke="rgb(191,191,191)" stroke-width="26" stroke-linecap="round"/><line x1="645" y1="30" x2="655" y2="75" stroke="rgb(191,191,191)" stroke-width="26" stroke-linecap="round"/><line x1="655" y1="75" x2="680" y2="110" stroke="rgb(191,191,191)" stroke-width="26" stroke-linecap="round"/>
<line x1="540" y1="8" x2="557" y2="30" stroke="rgb(191,191,191)" stroke-width="28" stroke-linecap="round"/><line x1="557" y1="30" x2="580" y2="75" stroke="rgb(191,191,191)" stroke-width="28" stroke-linecap="round"/><line x1="580" y1="75" x2="614" y2="120" stroke="rgb(191,191,191)" stroke-width="28" stroke-linecap="round"/><line x1="614" y1="120" x2="656" y2="165" stroke="rgb(191,191,191)" stroke-width="28" stroke-linecap="round"/><line x1="656" y1="165" x2="662" y2="210" stroke="rgb(191,191,191)" stroke-width="28" stroke-linecap="round"/><line x1="662" y1="210" x2="668" y2="255" stroke="rgb(191,191,191)" stroke-width="28" stroke-linecap="round"/><line x1="668" y1="255" x2="672" y2="300" stroke="rgb(191,191,191)" stroke-width="28" stroke-linecap="round"/>
<line x1="250" y1="75" x2="262" y2="40" stroke="rgb(191,191,191)" stroke-width="29" stroke-linecap="round"/><line x1="262" y1="40" x2="280" y2="8" stroke="rgb(191,191,191)" stroke-width="30" stroke-linecap="round"/>
<line x1="430" y1="8" x2="456" y2="30" stroke="rgb(191,191,191)" stroke-width="30" stroke-linecap="round"/><line x1="456" y1="30" x2="500" y2="75" stroke="rgb(191,191,191)" stroke-width="30" stroke-linecap="round"/><line x1="500" y1="75" x2="540" y2="120" stroke="rgb(191,191,191)" stroke-width="30" stroke-linecap="round"/><line x1="540" y1="120" x2="573" y2="165" stroke="rgb(191,191,191)" stroke-width="30" stroke-linecap="round"/><line x1="573" y1="165" x2="593" y2="210" stroke="rgb(191,191,191)" stroke-width="30" stroke-linecap="round"/><line x1="593" y1="210" x2="612" y2="255" stroke="rgb(191,191,191)" stroke-width="30" stroke-linecap="round"/><line x1="612" y1="255" x2="622" y2="300" stroke="rgb(191,191,191)" stroke-width="29" stroke-linecap="round"/><line x1="622" y1="300" x2="652" y2="345" stroke="rgb(191,191,191)" stroke-width="29" stroke-linecap="round"/><line x1="652" y1="345" x2="662" y2="390" stroke="rgb(191,191,191)" stroke-width="30" stroke-linecap="round"/><line x1="662" y1="390" x2="664" y2="435" stroke="rgb(191,191,191)" stroke-width="30" stroke-linecap="round"/><line x1="664" y1="435" x2="668" y2="470" stroke="rgb(191,191,191)" stroke-width="30" stroke-linecap="round"/>
<line x1="258" y1="165" x2="275" y2="140" stroke="rgb(191,191,191)" stroke-width="33" stroke-linecap="round"/><line x1="275" y1="140" x2="296" y2="120" stroke="rgb(191,191,191)" stroke-width="36" stroke-linecap="round"/><line x1="296" y1="120" x2="330" y2="85" stroke="rgb(191,191,191)" stroke-width="41" stroke-linecap="round"/><line x1="330" y1="85" x2="365" y2="75" stroke="rgb(191,191,191)" stroke-width="46" stroke-linecap="round"/><line x1="365" y1="75" x2="400" y2="95" stroke="rgb(191,191,191)" stroke-width="47" stroke-linecap="round"/><line x1="400" y1="95" x2="426" y2="120" stroke="rgb(191,191,191)" stroke-width="45" stroke-linecap="round"/><line x1="426" y1="120" x2="455" y2="145" stroke="rgb(191,191,191)" stroke-width="42" stroke-linecap="round"/><line x1="455" y1="145" x2="479" y2="165" stroke="rgb(191,191,191)" stroke-width="38" stroke-linecap="round"/><line x1="479" y1="165" x2="520" y2="210" stroke="rgb(191,191,191)" stroke-width="35" stroke-linecap="round"/><line x1="520" y1="210" x2="548" y2="255" stroke="rgb(191,191,191)" stroke-width="33" stroke-linecap="round"/><line x1="548" y1="255" x2="565" y2="300" stroke="rgb(191,191,191)" stroke-width="31" stroke-linecap="round"/><line x1="565" y1="300" x2="590" y2="345" stroke="rgb(191,191,191)" stroke-width="30" stroke-linecap="round"/><line x1="590" y1="345" x2="606" y2="390" stroke="rgb(191,191,191)" stroke-width="30" stroke-linecap="round"/><line x1="606" y1="390" x2="610" y2="415" stroke="rgb(191,191,191)" stroke-width="27" stroke-linecap="round"/>
<line x1="262" y1="300" x2="277" y2="270" stroke="rgb(191,191,191)" stroke-width="35" stroke-linecap="round"/><line x1="277" y1="270" x2="292" y2="255" stroke="rgb(191,191,191)" stroke-width="38" stroke-linecap="round"/><line x1="292" y1="255" x2="310" y2="220" stroke="rgb(191,191,191)" stroke-width="43" stroke-linecap="round"/><line x1="310" y1="220" x2="350" y2="205" stroke="rgb(191,191,191)" stroke-width="51" stroke-linecap="round"/><line x1="350" y1="205" x2="400" y2="205" stroke="rgb(191,191,191)" stroke-width="56" stroke-linecap="round"/><line x1="400" y1="205" x2="440" y2="240" stroke="rgb(191,191,191)" stroke-width="51" stroke-linecap="round"/><line x1="440" y1="240" x2="465" y2="275" stroke="rgb(191,191,191)" stroke-width="43" stroke-linecap="round"/><line x1="465" y1="275" x2="490" y2="300" stroke="rgb(191,191,191)" stroke-width="38" stroke-linecap="round"/><line x1="490" y1="300" x2="516" y2="345" stroke="rgb(191,191,191)" stroke-width="35" stroke-linecap="round"/><line x1="516" y1="345" x2="563" y2="390" stroke="rgb(191,191,191)" stroke-width="34" stroke-linecap="round"/><line x1="563" y1="390" x2="590" y2="435" stroke="rgb(191,191,191)" stroke-width="35" stroke-linecap="round"/><line x1="590" y1="435" x2="600" y2="470" stroke="rgb(191,191,191)" stroke-width="36" stroke-linecap="round"/>
<line x1="262" y1="440" x2="280" y2="420" stroke="rgb(191,191,191)" stroke-width="31" stroke-linecap="round"/><line x1="280" y1="420" x2="300" y2="390" stroke="rgb(191,191,191)" stroke-width="34" stroke-linecap="round"/><line x1="300" y1="390" x2="320" y2="360" stroke="rgb(191,191,191)" stroke-width="40" stroke-linecap="round"/><line x1="320" y1="360" x2="370" y2="340" stroke="rgb(191,191,191)" stroke-width="47" stroke-linecap="round"/><line x1="370" y1="340" x2="410" y2="355" stroke="rgb(191,191,191)" stroke-width="50" stroke-linecap="round"/><line x1="410" y1="355" x2="442" y2="390" stroke="rgb(191,191,191)" stroke-width="47" stroke-linecap="round"/><line x1="442" y1="390" x2="472" y2="415" stroke="rgb(191,191,191)" stroke-width="42" stroke-linecap="round"/><line x1="472" y1="415" x2="496" y2="435" stroke="rgb(191,191,191)" stroke-width="39" stroke-linecap="round"/><line x1="496" y1="435" x2="512" y2="470" stroke="rgb(191,191,191)" stroke-width="37" stroke-linecap="round"/>
<line x1="320" y1="470" x2="357" y2="440" stroke="rgb(191,191,191)" stroke-width="38" stroke-linecap="round"/><line x1="357" y1="440" x2="390" y2="470" stroke="rgb(191,191,191)" stroke-width="40" stroke-linecap="round"/></g></g></g></g><rect x="826.5" y="848.4" width="56.3" height="13.6" fill="#fff"/><line x1="612.7" y1="604.1" x2="697.2" y2="608.9" stroke="#fff" stroke-width="3" stroke-dasharray="13 11.5"/><rect x="559.3" y="489" width="363.7" height="405" fill="none" stroke="#1c1512" stroke-width="4"/><rect x="942.15" y="622.35" width="25.40" height="145.00" fill="url(#cbar)" stroke="#0f0d0c" stroke-width="2.5"/><text x="957.9" y="611.2" font-size="25" text-anchor="middle">Max</text><text x="956.7" y="795.7" font-size="25" text-anchor="middle">Min</text><text x="978.2" y="704.5" font-size="28" font-style="italic">S</text><text x="996" y="712" font-size="16.6">2</text><text x="423.6" y="622" font-size="29.5">2D FFT</text><text x="424" y="657" font-size="29.5">filtering</text><line x1="424.4" y1="680" x2="510" y2="680" stroke="#0f0d0c" stroke-width="3.6"/><path d="M530.3 680 L501.5 667.8 L507 680 L501.5 692.2Z" fill="#0f0d0c"/><text x="417" y="733.7" font-size="28.5" font-style="italic">k</text><text x="438.5" y="733.7" font-size="28.5">&lt;</text><text x="477.5" y="721.8" font-size="25" text-anchor="middle"><tspan style="font-family:NanumGothic,sans-serif;stroke:#0f0d0c;stroke-width:0.75">1</tspan></text><line x1="462.3" y1="726.6" x2="499.6" y2="726.6" stroke="#0f0d0c" stroke-width="2.3"/><text x="481" y="752.8" font-size="25" text-anchor="middle">250</text><text x="504" y="733.7" font-size="29.5">nm</text><text x="-0.6" y="509" font-size="33" font-weight="bold">c</text>
<line x1="1206.9" y1="490.7" x2="1206.9" y2="855.2" stroke="#c9c9c9" stroke-width="3.6" stroke-dasharray="11 14"/><line x1="1317.8" y1="490.7" x2="1317.8" y2="855.2" stroke="#c9c9c9" stroke-width="3.6" stroke-dasharray="11 14"/><line x1="1420.3" y1="490.7" x2="1420.3" y2="855.2" stroke="#c9c9c9" stroke-width="3.6" stroke-dasharray="11 14"/><polyline points="1117.3,775.5 1136.7,823.3 1156.4,776.6 1175.4,676.0 1195.2,602.4 1213.4,616.0 1233.5,690.5 1253.3,734.9 1273.0,693.1 1291.2,597.4 1311.0,523.0 1330.0,519.2 1350.0,558.3 1369.0,577.3 1388.8,557.6 1408.1,529.1 1426.8,536.7 1446.9,579.2 1465.9,617.2 1484.8,618.0" fill="none" stroke="#0f0d0c" stroke-width="3.8" stroke-linejoin="round"/><line x1="1076.4" y1="549.8" x2="1083.3" y2="549.8" stroke="#0f0d0c" stroke-width="3.9"/><line x1="1076.4" y1="631.8" x2="1083.3" y2="631.8" stroke="#0f0d0c" stroke-width="3.9"/><line x1="1076.4" y1="713.8" x2="1083.3" y2="713.8" stroke="#0f0d0c" stroke-width="3.9"/><line x1="1076.4" y1="795.8" x2="1083.3" y2="795.8" stroke="#0f0d0c" stroke-width="3.9"/><line x1="1076.4" y1="508.2" x2="1079.8" y2="508.2" stroke="#0f0d0c" stroke-width="3.9"/><line x1="1076.4" y1="591" x2="1079.8" y2="591" stroke="#0f0d0c" stroke-width="3.9"/><line x1="1076.4" y1="672.6" x2="1079.8" y2="672.6" stroke="#0f0d0c" stroke-width="3.9"/><line x1="1076.4" y1="754.6" x2="1079.8" y2="754.6" stroke="#0f0d0c" stroke-width="3.9"/><line x1="1076.4" y1="835.6" x2="1079.8" y2="835.6" stroke="#0f0d0c" stroke-width="3.9"/><line x1="1117.6" y1="857.2" x2="1117.6" y2="850.3" stroke="#0f0d0c" stroke-width="3.9"/><line x1="1284.1" y1="857.2" x2="1284.1" y2="850.3" stroke="#0f0d0c" stroke-width="3.9"/><line x1="1450.6" y1="857.2" x2="1450.6" y2="850.3" stroke="#0f0d0c" stroke-width="3.9"/><line x1="1201.6" y1="857.2" x2="1201.6" y2="853.5" stroke="#0f0d0c" stroke-width="3.9"/><line x1="1368.1" y1="857.2" x2="1368.1" y2="853.5" stroke="#0f0d0c" stroke-width="3.9"/><rect x="1076.4" y="488.7" width="457.0999999999999" height="368.50000000000006" fill="none" stroke="#0f0d0c" stroke-width="4.2"/><text x="1118" y="886.6" font-size="28.5" text-anchor="middle">0</text><text x="1283.8" y="886.6" font-size="28.5" text-anchor="middle"><tspan style="font-family:NanumGothic,sans-serif;stroke:#0f0d0c;stroke-width:0.75">1</tspan></text><text x="1450.3" y="886.6" font-size="28.5" text-anchor="middle">2</text><text x="1272.8" y="914.2" font-size="29"><tspan font-style="italic">x</tspan> (µm)</text><text transform="translate(1049.4 735.4) rotate(-90)" font-size="29"><tspan font-style="italic">S</tspan><tspan font-size="18" dy="5">2</tspan><tspan dy="-5" dx="3" font-size="30.5">(a.u.)</tspan></text><text x="1319.5" y="743.5" font-size="29.7">6<tspan style="font-family:NanumGothic,sans-serif;stroke:#0f0d0c;stroke-width:0.75">1</tspan>0 nm</text><line x1="1330.5" y1="767.9" x2="1407.6000000000001" y2="767.9" stroke="#231815" stroke-width="3.4"/><path d="M1319.7 767.9 L1337.7 760.4 L1333.2 767.9 L1337.7 775.4Z" fill="#231815"/><path d="M1418.4 767.9 L1400.4 760.4 L1404.9 767.9 L1400.4 775.4Z" fill="#231815"/><text x="1029.5" y="509" font-size="33" font-weight="bold">d</text>
</svg></body></html>
